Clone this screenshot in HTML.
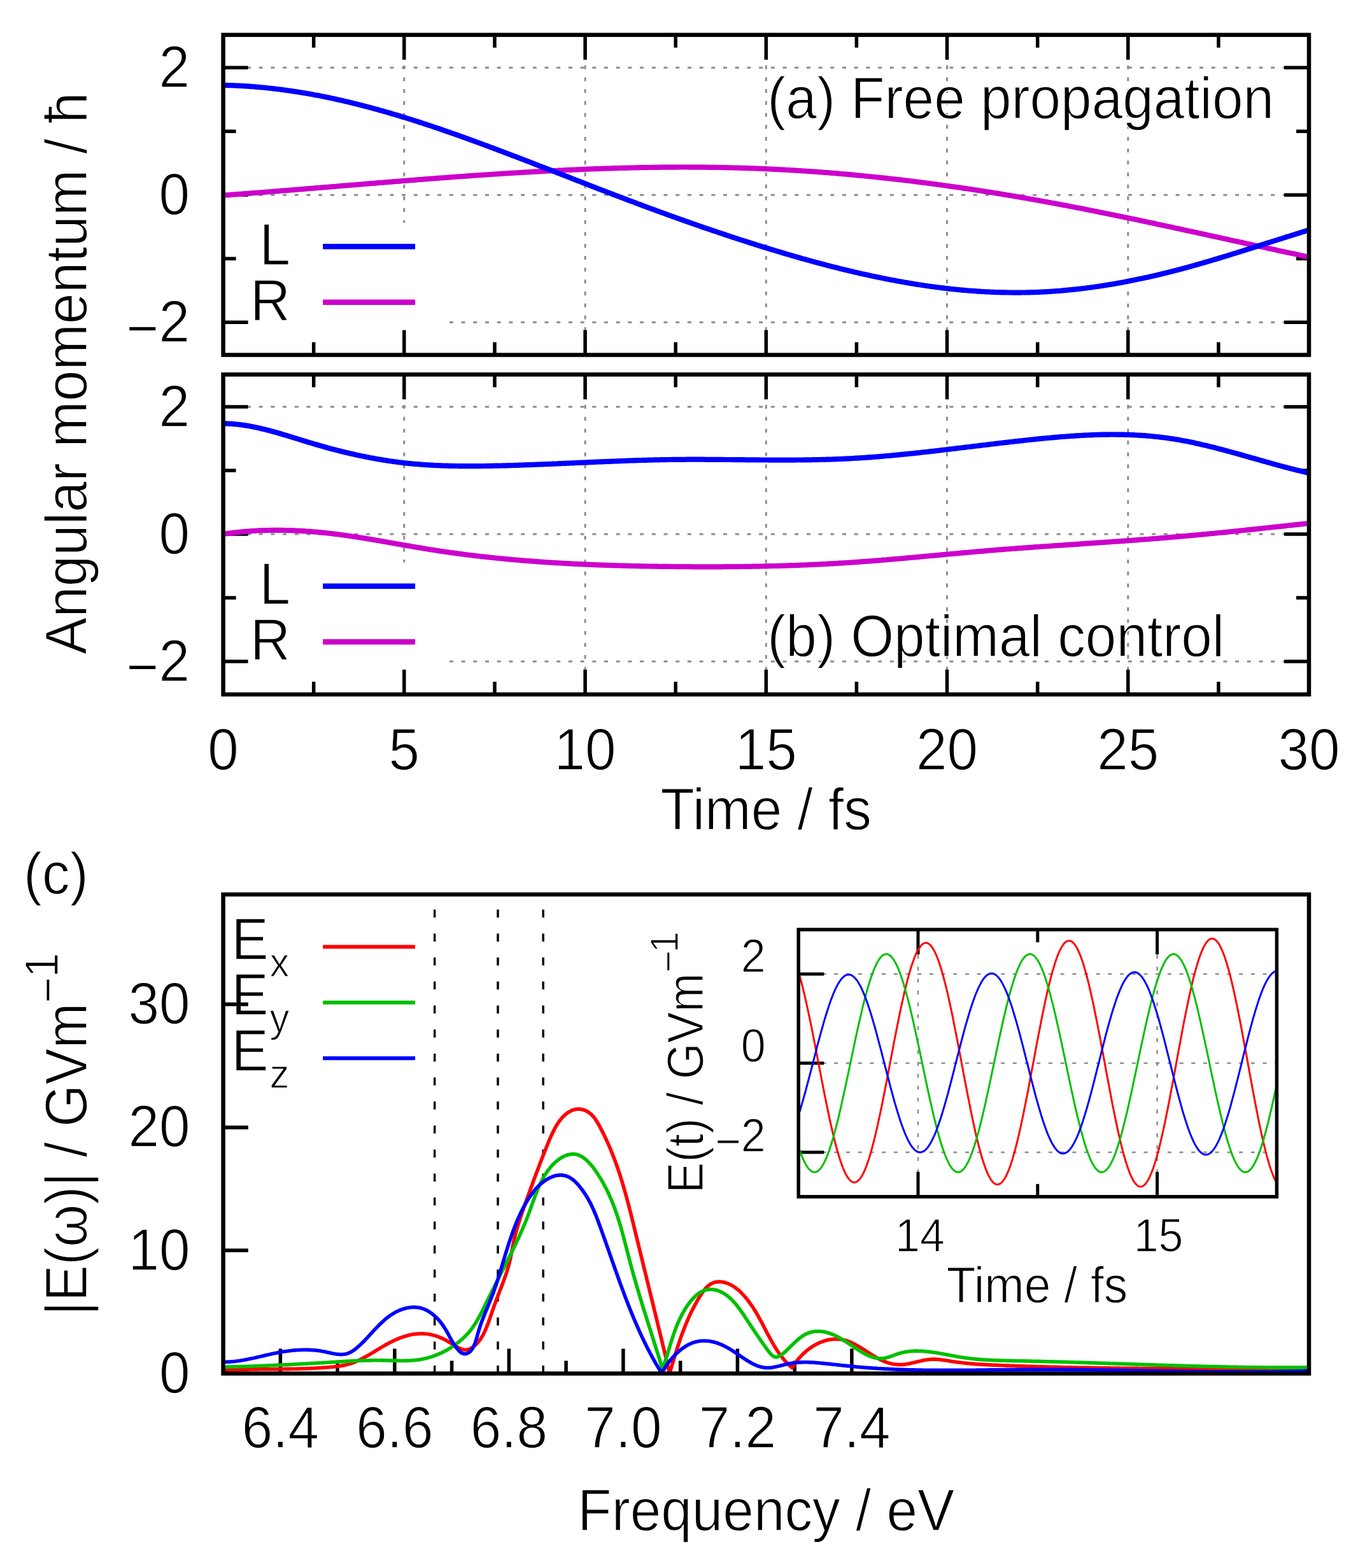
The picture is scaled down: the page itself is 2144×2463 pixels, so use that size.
<!DOCTYPE html>
<html><head><meta charset="utf-8"><title>Angular momentum figure</title>
<style>html,body{margin:0;padding:0;background:#fff;}svg{display:block;filter:blur(0.7px);}text{font-family:"Liberation Sans", Arial, Helvetica, sans-serif;fill:#000;stroke:#fff;stroke-width:1.3px;paint-order:fill;}</style></head><body>
<svg width="2144" height="2463" viewBox="0 0 2144 2463">
<rect x="0" y="0" width="2144" height="2463" fill="#fff"/>
<g stroke="#8c8c8c" stroke-width="3" stroke-dasharray="6 12.7" fill="none">
<line x1="634.8" y1="557.5" x2="634.8" y2="54.8"/>
<line x1="919.1" y1="557.5" x2="919.1" y2="54.8"/>
<line x1="1203.3" y1="557.5" x2="1203.3" y2="54.8"/>
<line x1="1487.5" y1="557.5" x2="1487.5" y2="54.8"/>
<line x1="1771.8" y1="557.5" x2="1771.8" y2="54.8"/>
<line x1="350.6" y1="106.3" x2="2056" y2="106.3"/>
<line x1="350.6" y1="306.3" x2="2056" y2="306.3"/>
<line x1="350.6" y1="506.3" x2="2056" y2="506.3"/>
</g>
<rect x="354.6" y="350" width="344.4" height="203.5" fill="#fff"/>
<g stroke="#000" stroke-width="5.5">
<line x1="492.7" y1="557.5" x2="492.7" y2="537.5"/>
<line x1="492.7" y1="54.8" x2="492.7" y2="74.8"/>
<line x1="634.8" y1="557.5" x2="634.8" y2="518.5"/>
<line x1="634.8" y1="54.8" x2="634.8" y2="93.8"/>
<line x1="777" y1="557.5" x2="777" y2="537.5"/>
<line x1="777" y1="54.8" x2="777" y2="74.8"/>
<line x1="919.1" y1="557.5" x2="919.1" y2="518.5"/>
<line x1="919.1" y1="54.8" x2="919.1" y2="93.8"/>
<line x1="1061.2" y1="557.5" x2="1061.2" y2="537.5"/>
<line x1="1061.2" y1="54.8" x2="1061.2" y2="74.8"/>
<line x1="1203.3" y1="557.5" x2="1203.3" y2="518.5"/>
<line x1="1203.3" y1="54.8" x2="1203.3" y2="93.8"/>
<line x1="1345.4" y1="557.5" x2="1345.4" y2="537.5"/>
<line x1="1345.4" y1="54.8" x2="1345.4" y2="74.8"/>
<line x1="1487.5" y1="557.5" x2="1487.5" y2="518.5"/>
<line x1="1487.5" y1="54.8" x2="1487.5" y2="93.8"/>
<line x1="1629.7" y1="557.5" x2="1629.7" y2="537.5"/>
<line x1="1629.7" y1="54.8" x2="1629.7" y2="74.8"/>
<line x1="1771.8" y1="557.5" x2="1771.8" y2="518.5"/>
<line x1="1771.8" y1="54.8" x2="1771.8" y2="93.8"/>
<line x1="1913.9" y1="557.5" x2="1913.9" y2="537.5"/>
<line x1="1913.9" y1="54.8" x2="1913.9" y2="74.8"/>
<line x1="350.6" y1="506.3" x2="389.6" y2="506.3"/>
<line x1="2056" y1="506.3" x2="2017" y2="506.3"/>
<line x1="350.6" y1="406.3" x2="370.6" y2="406.3"/>
<line x1="2056" y1="406.3" x2="2036" y2="406.3"/>
<line x1="350.6" y1="306.3" x2="389.6" y2="306.3"/>
<line x1="2056" y1="306.3" x2="2017" y2="306.3"/>
<line x1="350.6" y1="206.3" x2="370.6" y2="206.3"/>
<line x1="2056" y1="206.3" x2="2036" y2="206.3"/>
<line x1="350.6" y1="106.3" x2="389.6" y2="106.3"/>
<line x1="2056" y1="106.3" x2="2017" y2="106.3"/>
</g>
<g stroke="#8c8c8c" stroke-width="3" stroke-dasharray="6 12.7" fill="none">
<line x1="634.8" y1="1090.8" x2="634.8" y2="588.3"/>
<line x1="919.1" y1="1090.8" x2="919.1" y2="588.3"/>
<line x1="1203.3" y1="1090.8" x2="1203.3" y2="588.3"/>
<line x1="1487.5" y1="1090.8" x2="1487.5" y2="588.3"/>
<line x1="1771.8" y1="1090.8" x2="1771.8" y2="588.3"/>
<line x1="350.6" y1="639" x2="2056" y2="639"/>
<line x1="350.6" y1="839" x2="2056" y2="839"/>
<line x1="350.6" y1="1039" x2="2056" y2="1039"/>
</g>
<rect x="354.6" y="883.5" width="344.4" height="203.3" fill="#fff"/>
<g stroke="#000" stroke-width="5.5">
<line x1="492.7" y1="1090.8" x2="492.7" y2="1070.8"/>
<line x1="492.7" y1="588.3" x2="492.7" y2="608.3"/>
<line x1="634.8" y1="1090.8" x2="634.8" y2="1051.8"/>
<line x1="634.8" y1="588.3" x2="634.8" y2="627.3"/>
<line x1="777" y1="1090.8" x2="777" y2="1070.8"/>
<line x1="777" y1="588.3" x2="777" y2="608.3"/>
<line x1="919.1" y1="1090.8" x2="919.1" y2="1051.8"/>
<line x1="919.1" y1="588.3" x2="919.1" y2="627.3"/>
<line x1="1061.2" y1="1090.8" x2="1061.2" y2="1070.8"/>
<line x1="1061.2" y1="588.3" x2="1061.2" y2="608.3"/>
<line x1="1203.3" y1="1090.8" x2="1203.3" y2="1051.8"/>
<line x1="1203.3" y1="588.3" x2="1203.3" y2="627.3"/>
<line x1="1345.4" y1="1090.8" x2="1345.4" y2="1070.8"/>
<line x1="1345.4" y1="588.3" x2="1345.4" y2="608.3"/>
<line x1="1487.5" y1="1090.8" x2="1487.5" y2="1051.8"/>
<line x1="1487.5" y1="588.3" x2="1487.5" y2="627.3"/>
<line x1="1629.7" y1="1090.8" x2="1629.7" y2="1070.8"/>
<line x1="1629.7" y1="588.3" x2="1629.7" y2="608.3"/>
<line x1="1771.8" y1="1090.8" x2="1771.8" y2="1051.8"/>
<line x1="1771.8" y1="588.3" x2="1771.8" y2="627.3"/>
<line x1="1913.9" y1="1090.8" x2="1913.9" y2="1070.8"/>
<line x1="1913.9" y1="588.3" x2="1913.9" y2="608.3"/>
<line x1="350.6" y1="1039" x2="389.6" y2="1039"/>
<line x1="2056" y1="1039" x2="2017" y2="1039"/>
<line x1="350.6" y1="939" x2="370.6" y2="939"/>
<line x1="2056" y1="939" x2="2036" y2="939"/>
<line x1="350.6" y1="839" x2="389.6" y2="839"/>
<line x1="2056" y1="839" x2="2017" y2="839"/>
<line x1="350.6" y1="739" x2="370.6" y2="739"/>
<line x1="2056" y1="739" x2="2036" y2="739"/>
<line x1="350.6" y1="639" x2="389.6" y2="639"/>
<line x1="2056" y1="639" x2="2017" y2="639"/>
</g>
<path d="M350.6,306.8 353.1,306.6 355.6,306.4 358.1,306.3 360.6,306.1 363.0,305.9 365.5,305.7 368.0,305.5 370.5,305.3 373.0,305.1 375.5,304.9 378.0,304.8 380.5,304.6 383.0,304.4 385.5,304.2 387.9,304.0 390.4,303.8 392.9,303.6 395.4,303.4 397.9,303.2 400.4,303.0 402.9,302.8 405.4,302.7 407.9,302.5 410.4,302.3 412.9,302.1 415.3,301.9 417.8,301.7 420.3,301.5 422.8,301.3 425.3,301.1 427.8,300.9 430.3,300.7 432.8,300.5 435.3,300.3 437.8,300.1 440.3,299.9 442.8,299.7 445.3,299.5 447.7,299.3 450.2,299.1 452.7,298.9 455.2,298.7 457.7,298.5 460.2,298.3 462.7,298.1 465.2,297.9 467.7,297.7 470.2,297.5 472.7,297.3 475.2,297.1 477.7,296.9 480.2,296.7 482.7,296.4 485.2,296.2 487.6,296.0 490.1,295.8 492.6,295.6 495.1,295.4 497.6,295.2 500.1,295.0 502.6,294.8 505.1,294.6 507.6,294.4 510.1,294.2 512.6,294.0 515.1,293.8 517.6,293.6 520.1,293.4 522.6,293.2 525.1,293.0 527.6,292.8 530.1,292.5 532.6,292.3 535.1,292.1 537.6,291.9 540.0,291.7 542.5,291.5 545.0,291.3 547.5,291.1 550.0,290.9 552.5,290.7 555.0,290.5 557.5,290.3 560.0,290.1 562.5,289.9 565.0,289.7 567.5,289.5 570.0,289.3 572.5,289.0 575.0,288.8 577.5,288.6 580.0,288.4 582.5,288.2 585.0,288.0 587.5,287.8 590.0,287.6 592.5,287.4 595.0,287.2 597.5,287.0 600.0,286.8 602.5,286.6 605.0,286.4 607.5,286.2 610.0,286.0 612.5,285.8 615.0,285.6 617.5,285.4 620.0,285.2 622.5,285.0 625.0,284.8 627.5,284.6 630.0,284.4 632.5,284.2 635.0,284.0 637.5,283.8 640.0,283.6 642.5,283.4 645.0,283.2 647.5,283.0 650.0,282.8 652.5,282.6 655.0,282.4 657.5,282.2 660.0,282.0 662.5,281.8 665.0,281.6 667.4,281.4 669.9,281.2 672.4,281.1 674.9,280.9 677.4,280.7 679.9,280.5 682.4,280.3 684.9,280.1 687.4,279.9 689.9,279.7 692.4,279.5 694.9,279.3 697.4,279.2 699.9,279.0 702.4,278.8 704.9,278.6 707.4,278.4 709.9,278.2 712.4,278.0 714.9,277.9 717.4,277.7 719.9,277.5 722.4,277.3 724.9,277.1 727.4,277.0 730.0,276.8 732.5,276.6 735.0,276.4 737.5,276.2 740.0,276.1 742.5,275.9 745.0,275.7 747.5,275.5 750.0,275.4 752.5,275.2 755.0,275.0 757.5,274.8 760.0,274.7 762.5,274.5 765.0,274.3 767.5,274.2 770.0,274.0 772.5,273.8 775.0,273.7 777.5,273.5 780.0,273.3 782.5,273.2 785.0,273.0 787.5,272.9 790.0,272.7 792.5,272.5 795.0,272.4 797.5,272.2 800.0,272.1 802.5,271.9 805.0,271.8 807.5,271.6 810.0,271.5 812.5,271.3 815.0,271.2 817.5,271.0 820.0,270.9 822.5,270.7 825.0,270.6 827.5,270.4 830.0,270.3 832.5,270.1 835.0,270.0 837.5,269.8 840.0,269.7 842.5,269.6 845.0,269.4 847.5,269.3 850.0,269.1 852.5,269.0 855.0,268.9 857.5,268.7 860.0,268.6 862.5,268.5 865.0,268.4 867.5,268.2 870.0,268.1 872.5,268.0 875.0,267.9 877.5,267.7 880.0,267.6 882.5,267.5 885.0,267.4 887.5,267.2 890.0,267.1 892.5,267.0 895.0,266.9 897.5,266.8 900.0,266.7 902.5,266.6 905.0,266.5 907.5,266.3 910.0,266.2 912.5,266.1 915.0,266.0 917.5,265.9 920.0,265.8 922.5,265.7 925.0,265.6 927.5,265.5 930.0,265.4 932.5,265.3 935.0,265.2 937.5,265.2 940.0,265.1 942.5,265.0 945.0,264.9 947.5,264.8 950.0,264.7 952.5,264.6 955.0,264.6 957.5,264.5 960.0,264.4 962.5,264.3 965.0,264.2 967.5,264.2 970.0,264.1 972.5,264.0 975.0,264.0 977.5,263.9 980.0,263.8 982.5,263.8 985.0,263.7 987.5,263.6 990.0,263.6 992.5,263.5 995.0,263.5 997.5,263.4 1000.0,263.3 1002.5,263.3 1005.0,263.2 1007.5,263.2 1010.0,263.1 1012.5,263.1 1015.0,263.1 1017.5,263.0 1020.0,263.0 1022.5,262.9 1025.0,262.9 1027.5,262.9 1030.0,262.8 1032.5,262.8 1035.0,262.8 1037.5,262.7 1040.0,262.7 1042.5,262.7 1045.0,262.7 1047.5,262.6 1050.0,262.6 1052.5,262.6 1055.0,262.6 1057.5,262.6 1060.0,262.6 1062.5,262.6 1065.0,262.6 1067.5,262.5 1070.0,262.5 1072.5,262.5 1075.0,262.5 1077.5,262.5 1080.0,262.5 1082.5,262.6 1085.0,262.6 1087.5,262.6 1090.0,262.6 1092.5,262.6 1095.0,262.6 1097.5,262.6 1100.0,262.6 1102.5,262.7 1105.0,262.7 1107.5,262.7 1110.0,262.7 1112.5,262.8 1115.0,262.8 1117.5,262.8 1120.0,262.9 1122.5,262.9 1125.0,262.9 1127.5,263.0 1130.0,263.0 1132.5,263.1 1135.0,263.1 1137.5,263.2 1140.0,263.2 1142.5,263.3 1145.0,263.3 1147.5,263.4 1150.0,263.5 1152.5,263.5 1155.0,263.6 1157.5,263.6 1159.9,263.7 1162.4,263.8 1164.9,263.9 1167.4,263.9 1169.9,264.0 1172.4,264.1 1174.9,264.2 1177.4,264.3 1179.9,264.4 1182.4,264.4 1184.9,264.5 1187.4,264.6 1189.9,264.7 1192.4,264.8 1194.9,264.9 1197.4,265.0 1199.9,265.1 1202.4,265.2 1204.9,265.3 1207.4,265.5 1209.9,265.6 1212.4,265.7 1214.8,265.8 1217.3,265.9 1219.8,266.1 1222.3,266.2 1224.8,266.3 1227.3,266.4 1229.8,266.6 1232.3,266.7 1234.8,266.9 1237.3,267.0 1239.8,267.1 1242.3,267.3 1244.8,267.4 1247.3,267.6 1249.8,267.7 1252.3,267.9 1254.7,268.0 1257.2,268.2 1259.7,268.4 1262.2,268.5 1264.7,268.7 1267.2,268.8 1269.7,269.0 1272.2,269.2 1274.7,269.4 1277.2,269.5 1279.7,269.7 1282.2,269.9 1284.7,270.1 1287.1,270.3 1289.6,270.4 1292.1,270.6 1294.6,270.8 1297.1,271.0 1299.6,271.2 1302.1,271.4 1304.6,271.6 1307.1,271.8 1309.6,272.0 1312.1,272.2 1314.5,272.4 1317.0,272.6 1319.5,272.8 1322.0,273.1 1324.5,273.3 1327.0,273.5 1329.5,273.7 1332.0,273.9 1334.5,274.2 1337.0,274.4 1339.4,274.6 1341.9,274.9 1344.4,275.1 1346.9,275.3 1349.4,275.6 1351.9,275.8 1354.4,276.0 1356.9,276.3 1359.4,276.5 1361.8,276.8 1364.3,277.0 1366.8,277.3 1369.3,277.5 1371.8,277.8 1374.3,278.0 1376.8,278.3 1379.3,278.6 1381.7,278.8 1384.2,279.1 1386.7,279.4 1389.2,279.6 1391.7,279.9 1394.2,280.2 1396.7,280.5 1399.1,280.7 1401.6,281.0 1404.1,281.3 1406.6,281.6 1409.1,281.9 1411.6,282.1 1414.1,282.4 1416.5,282.7 1419.0,283.0 1421.5,283.3 1424.0,283.6 1426.5,283.9 1429.0,284.2 1431.5,284.5 1433.9,284.8 1436.4,285.1 1438.9,285.4 1441.4,285.7 1443.9,286.1 1446.4,286.4 1448.8,286.7 1451.3,287.0 1453.8,287.3 1456.3,287.7 1458.8,288.0 1461.3,288.3 1463.7,288.6 1466.2,289.0 1468.7,289.3 1471.2,289.6 1473.7,290.0 1476.1,290.3 1478.6,290.6 1481.1,291.0 1483.6,291.3 1486.1,291.7 1488.6,292.0 1491.0,292.4 1493.5,292.7 1496.0,293.1 1498.5,293.4 1501.0,293.8 1503.4,294.1 1505.9,294.5 1508.4,294.8 1510.9,295.2 1513.3,295.6 1515.8,295.9 1518.3,296.3 1520.8,296.7 1523.3,297.0 1525.7,297.4 1528.2,297.8 1530.7,298.2 1533.2,298.5 1535.7,298.9 1538.1,299.3 1540.6,299.7 1543.1,300.1 1545.6,300.5 1548.0,300.9 1550.5,301.2 1553.0,301.6 1555.5,302.0 1557.9,302.4 1560.4,302.8 1562.9,303.2 1565.4,303.6 1567.8,304.0 1570.3,304.4 1572.8,304.8 1575.3,305.2 1577.7,305.6 1580.2,306.1 1582.7,306.5 1585.2,306.9 1587.6,307.3 1590.1,307.7 1592.6,308.1 1595.1,308.6 1597.5,309.0 1600.0,309.4 1602.5,309.8 1605.0,310.3 1607.4,310.7 1609.9,311.1 1612.4,311.5 1614.8,312.0 1617.3,312.4 1619.8,312.9 1622.3,313.3 1624.7,313.7 1627.2,314.2 1629.7,314.6 1632.1,315.1 1634.6,315.5 1637.1,316.0 1639.5,316.4 1642.0,316.9 1644.5,317.3 1647.0,317.8 1649.4,318.2 1651.9,318.7 1654.4,319.1 1656.8,319.6 1659.3,320.1 1661.8,320.5 1664.2,321.0 1666.7,321.4 1669.2,321.9 1671.6,322.4 1674.1,322.8 1676.6,323.3 1679.0,323.8 1681.5,324.3 1684.0,324.7 1686.4,325.2 1688.9,325.7 1691.4,326.2 1693.8,326.6 1696.3,327.1 1698.8,327.6 1701.2,328.1 1703.7,328.6 1706.2,329.1 1708.6,329.5 1711.1,330.0 1713.5,330.5 1716.0,331.0 1718.5,331.5 1720.9,332.0 1723.4,332.5 1725.9,333.0 1728.3,333.5 1730.8,334.0 1733.2,334.5 1735.7,335.0 1738.2,335.5 1740.6,336.0 1743.1,336.5 1745.6,337.0 1748.0,337.5 1750.5,338.0 1752.9,338.5 1755.4,339.0 1757.9,339.5 1760.3,340.0 1762.8,340.5 1765.2,341.0 1767.7,341.5 1770.1,342.0 1772.6,342.5 1775.1,343.0 1777.5,343.6 1780.0,344.1 1782.4,344.6 1784.9,345.1 1787.3,345.6 1789.8,346.1 1792.3,346.7 1794.7,347.2 1797.2,347.7 1799.6,348.2 1802.1,348.7 1804.5,349.2 1807.0,349.8 1809.4,350.3 1811.9,350.8 1814.4,351.3 1816.8,351.9 1819.3,352.4 1821.7,352.9 1824.2,353.4 1826.6,354.0 1829.1,354.5 1831.5,355.0 1834.0,355.5 1836.4,356.1 1838.9,356.6 1841.3,357.1 1843.8,357.7 1846.2,358.2 1848.7,358.7 1851.1,359.2 1853.6,359.8 1856.0,360.3 1858.5,360.8 1860.9,361.4 1863.4,361.9 1865.8,362.4 1868.3,363.0 1870.7,363.5 1873.2,364.0 1875.6,364.6 1878.1,365.1 1880.5,365.6 1883.0,366.2 1885.4,366.7 1887.9,367.2 1890.3,367.8 1892.8,368.3 1895.2,368.8 1897.6,369.4 1900.1,369.9 1902.5,370.4 1905.0,371.0 1907.4,371.5 1909.9,372.0 1912.3,372.6 1914.8,373.1 1917.2,373.6 1919.6,374.2 1922.1,374.7 1924.5,375.3 1927.0,375.8 1929.4,376.3 1931.9,376.9 1934.3,377.4 1936.7,377.9 1939.2,378.5 1941.6,379.0 1944.1,379.5 1946.5,380.1 1948.9,380.6 1951.4,381.1 1953.8,381.7 1956.3,382.2 1958.7,382.7 1961.1,383.3 1963.6,383.8 1966.0,384.3 1968.4,384.9 1970.9,385.4 1973.3,385.9 1975.8,386.5 1978.2,387.0 1980.6,387.5 1983.1,388.1 1985.5,388.6 1987.9,389.1 1990.4,389.7 1992.8,390.2 1995.2,390.7 1997.7,391.3 2000.1,391.8 2002.5,392.3 2005.0,392.8 2007.4,393.4 2009.8,393.9 2012.3,394.4 2014.7,394.9 2017.1,395.5 2019.6,396.0 2022.0,396.5 2024.4,397.0 2026.9,397.6 2029.3,398.1 2031.7,398.6 2034.1,399.1 2036.6,399.7 2039.0,400.2 2041.4,400.7 2043.9,401.2 2046.3,401.7 2048.7,402.3 2051.1,402.8 2053.6,403.3 2056.0,403.8" fill="none" stroke="#cc00cc" stroke-width="8.2" stroke-linejoin="round"/>
<path d="M350.6,133.8 353.1,133.9 355.7,133.9 358.2,134.0 360.7,134.1 363.3,134.1 365.8,134.2 368.3,134.3 370.8,134.5 373.4,134.6 375.9,134.7 378.4,134.8 380.9,135.0 383.4,135.1 385.9,135.3 388.5,135.4 391.0,135.6 393.5,135.8 396.0,136.0 398.5,136.2 401.0,136.4 403.5,136.6 406.0,136.8 408.5,137.0 411.0,137.3 413.5,137.5 416.0,137.7 418.5,138.0 421.0,138.3 423.4,138.5 425.9,138.8 428.4,139.1 430.9,139.4 433.4,139.7 435.9,140.0 438.4,140.3 440.8,140.6 443.3,140.9 445.8,141.2 448.3,141.6 450.7,141.9 453.2,142.3 455.7,142.6 458.1,143.0 460.6,143.4 463.1,143.7 465.5,144.1 468.0,144.5 470.5,144.9 472.9,145.3 475.4,145.7 477.9,146.1 480.3,146.5 482.8,147.0 485.2,147.4 487.7,147.8 490.1,148.3 492.6,148.7 495.0,149.2 497.5,149.6 499.9,150.1 502.4,150.6 504.8,151.1 507.2,151.5 509.7,152.0 512.1,152.5 514.6,153.0 517.0,153.5 519.4,154.1 521.9,154.6 524.3,155.1 526.7,155.6 529.2,156.2 531.6,156.7 534.0,157.2 536.5,157.8 538.9,158.3 541.3,158.9 543.7,159.5 546.2,160.0 548.6,160.6 551.0,161.2 553.4,161.8 555.8,162.4 558.3,163.0 560.7,163.6 563.1,164.2 565.5,164.8 567.9,165.4 570.3,166.0 572.7,166.7 575.1,167.3 577.6,167.9 580.0,168.6 582.4,169.2 584.8,169.9 587.2,170.5 589.6,171.2 592.0,171.8 594.4,172.5 596.8,173.2 599.2,173.8 601.6,174.5 604.0,175.2 606.4,175.9 608.8,176.6 611.2,177.3 613.6,178.0 616.0,178.7 618.3,179.4 620.7,180.1 623.1,180.8 625.5,181.5 627.9,182.2 630.3,183.0 632.7,183.7 635.1,184.4 637.5,185.2 639.8,185.9 642.2,186.7 644.6,187.4 647.0,188.1 649.4,188.9 651.7,189.7 654.1,190.4 656.5,191.2 658.9,192.0 661.3,192.7 663.6,193.5 666.0,194.3 668.4,195.1 670.8,195.8 673.1,196.6 675.5,197.4 677.9,198.2 680.2,199.0 682.6,199.8 685.0,200.6 687.4,201.4 689.7,202.2 692.1,203.0 694.5,203.8 696.8,204.6 699.2,205.5 701.6,206.3 703.9,207.1 706.3,207.9 708.6,208.8 711.0,209.6 713.4,210.4 715.7,211.2 718.1,212.1 720.5,212.9 722.8,213.8 725.2,214.6 727.5,215.4 729.9,216.3 732.2,217.1 734.6,218.0 737.0,218.8 739.3,219.7 741.7,220.6 744.0,221.4 746.4,222.3 748.7,223.1 751.1,224.0 753.4,224.9 755.8,225.7 758.1,226.6 760.5,227.5 762.8,228.3 765.2,229.2 767.5,230.1 769.9,231.0 772.2,231.8 774.6,232.7 776.9,233.6 779.3,234.5 781.6,235.4 784.0,236.3 786.3,237.1 788.7,238.0 791.0,238.9 793.4,239.8 795.7,240.7 798.1,241.6 800.4,242.5 802.7,243.4 805.1,244.3 807.4,245.1 809.8,246.0 812.1,246.9 814.5,247.8 816.8,248.7 819.1,249.6 821.5,250.5 823.8,251.4 826.2,252.3 828.5,253.2 830.9,254.1 833.2,255.0 835.5,255.9 837.9,256.8 840.2,257.7 842.6,258.7 844.9,259.6 847.2,260.5 849.6,261.4 851.9,262.3 854.3,263.2 856.6,264.1 858.9,265.0 861.3,265.9 863.6,266.8 866.0,267.7 868.3,268.6 870.6,269.5 873.0,270.5 875.3,271.4 877.6,272.3 880.0,273.2 882.3,274.1 884.7,275.0 887.0,275.9 889.3,276.8 891.7,277.7 894.0,278.6 896.3,279.6 898.7,280.5 901.0,281.4 903.4,282.3 905.7,283.2 908.0,284.1 910.4,285.0 912.7,285.9 915.1,286.8 917.4,287.7 919.7,288.6 922.1,289.5 924.4,290.5 926.7,291.4 929.1,292.3 931.4,293.2 933.8,294.1 936.1,295.0 938.4,295.9 940.8,296.8 943.1,297.7 945.5,298.6 947.8,299.5 950.1,300.4 952.5,301.3 954.8,302.2 957.2,303.1 959.5,304.0 961.8,304.9 964.2,305.8 966.5,306.7 968.9,307.6 971.2,308.5 973.5,309.3 975.9,310.2 978.2,311.1 980.6,312.0 982.9,312.9 985.3,313.8 987.6,314.7 989.9,315.6 992.3,316.4 994.6,317.3 997.0,318.2 999.3,319.1 1001.7,320.0 1004.0,320.8 1006.4,321.7 1008.7,322.6 1011.0,323.5 1013.4,324.3 1015.7,325.2 1018.1,326.1 1020.4,326.9 1022.8,327.8 1025.1,328.7 1027.5,329.5 1029.8,330.4 1032.2,331.3 1034.5,332.1 1036.9,333.0 1039.2,333.8 1041.6,334.7 1043.9,335.5 1046.3,336.4 1048.7,337.3 1051.0,338.1 1053.4,339.0 1055.7,339.8 1058.1,340.7 1060.4,341.5 1062.8,342.3 1065.1,343.2 1067.5,344.0 1069.9,344.9 1072.2,345.7 1074.6,346.5 1076.9,347.4 1079.3,348.2 1081.7,349.0 1084.0,349.9 1086.4,350.7 1088.7,351.5 1091.1,352.3 1093.5,353.2 1095.8,354.0 1098.2,354.8 1100.6,355.6 1102.9,356.5 1105.3,357.3 1107.7,358.1 1110.0,358.9 1112.4,359.7 1114.8,360.5 1117.2,361.3 1119.5,362.1 1121.9,362.9 1124.3,363.7 1126.6,364.5 1129.0,365.3 1131.4,366.1 1133.8,366.9 1136.1,367.7 1138.5,368.5 1140.9,369.3 1143.3,370.1 1145.7,370.9 1148.0,371.7 1150.4,372.5 1152.8,373.2 1155.2,374.0 1157.6,374.8 1160.0,375.6 1162.3,376.4 1164.7,377.1 1167.1,377.9 1169.5,378.7 1171.9,379.4 1174.3,380.2 1176.7,381.0 1179.1,381.7 1181.5,382.5 1183.9,383.2 1186.3,384.0 1188.7,384.8 1191.0,385.5 1193.4,386.3 1195.8,387.0 1198.2,387.7 1200.6,388.5 1203.0,389.2 1205.4,390.0 1207.9,390.7 1210.3,391.5 1212.7,392.2 1215.1,392.9 1217.5,393.6 1219.9,394.4 1222.3,395.1 1224.7,395.8 1227.1,396.5 1229.5,397.3 1231.9,398.0 1234.3,398.7 1236.8,399.4 1239.2,400.1 1241.6,400.8 1244.0,401.5 1246.4,402.2 1248.8,402.9 1251.3,403.6 1253.7,404.3 1256.1,405.0 1258.5,405.7 1261.0,406.4 1263.4,407.0 1265.8,407.7 1268.2,408.4 1270.7,409.1 1273.1,409.7 1275.5,410.4 1277.9,411.1 1280.4,411.7 1282.8,412.4 1285.2,413.0 1287.7,413.7 1290.1,414.3 1292.5,415.0 1295.0,415.6 1297.4,416.3 1299.8,416.9 1302.3,417.5 1304.7,418.2 1307.1,418.8 1309.6,419.4 1312.0,420.0 1314.4,420.6 1316.9,421.2 1319.3,421.9 1321.8,422.5 1324.2,423.1 1326.6,423.7 1329.1,424.2 1331.5,424.8 1334.0,425.4 1336.4,426.0 1338.9,426.6 1341.3,427.2 1343.8,427.7 1346.2,428.3 1348.7,428.8 1351.1,429.4 1353.5,430.0 1356.0,430.5 1358.4,431.1 1360.9,431.6 1363.3,432.1 1365.8,432.7 1368.3,433.2 1370.7,433.7 1373.2,434.2 1375.6,434.8 1378.1,435.3 1380.5,435.8 1383.0,436.3 1385.4,436.8 1387.9,437.3 1390.3,437.8 1392.8,438.3 1395.3,438.7 1397.7,439.2 1400.2,439.7 1402.6,440.1 1405.1,440.6 1407.6,441.1 1410.0,441.5 1412.5,442.0 1414.9,442.4 1417.4,442.8 1419.9,443.3 1422.3,443.7 1424.8,444.1 1427.2,444.6 1429.7,445.0 1432.2,445.4 1434.6,445.8 1437.1,446.2 1439.6,446.6 1442.0,447.0 1444.5,447.3 1447.0,447.7 1449.4,448.1 1451.9,448.5 1454.4,448.8 1456.8,449.2 1459.3,449.5 1461.8,449.9 1464.2,450.2 1466.7,450.5 1469.2,450.9 1471.6,451.2 1474.1,451.5 1476.6,451.8 1479.1,452.1 1481.5,452.4 1484.0,452.7 1486.5,453.0 1488.9,453.3 1491.4,453.6 1493.9,453.9 1496.4,454.1 1498.8,454.4 1501.3,454.6 1503.8,454.9 1506.2,455.1 1508.7,455.4 1511.2,455.6 1513.7,455.8 1516.1,456.0 1518.6,456.2 1521.1,456.5 1523.6,456.7 1526.0,456.8 1528.5,457.0 1531.0,457.2 1533.4,457.4 1535.9,457.6 1538.4,457.7 1540.9,457.9 1543.3,458.0 1545.8,458.2 1548.3,458.3 1550.8,458.4 1553.2,458.5 1555.7,458.7 1558.2,458.8 1560.7,458.9 1563.2,459.0 1565.6,459.1 1568.1,459.1 1570.6,459.2 1573.1,459.3 1575.5,459.3 1578.0,459.4 1580.5,459.4 1583.0,459.5 1585.4,459.5 1587.9,459.5 1590.4,459.6 1592.9,459.6 1595.3,459.6 1597.8,459.6 1600.3,459.6 1602.8,459.6 1605.2,459.5 1607.7,459.5 1610.2,459.5 1612.7,459.4 1615.1,459.4 1617.6,459.3 1620.1,459.2 1622.6,459.2 1625.0,459.1 1627.5,459.0 1630.0,458.9 1632.5,458.8 1634.9,458.7 1637.4,458.6 1639.9,458.4 1642.4,458.3 1644.8,458.1 1647.3,458.0 1649.8,457.8 1652.3,457.7 1654.7,457.5 1657.2,457.3 1659.7,457.1 1662.2,457.0 1664.6,456.8 1667.1,456.6 1669.6,456.3 1672.0,456.1 1674.5,455.9 1677.0,455.7 1679.5,455.4 1681.9,455.2 1684.4,454.9 1686.9,454.7 1689.3,454.4 1691.8,454.1 1694.3,453.8 1696.8,453.6 1699.2,453.3 1701.7,453.0 1704.2,452.7 1706.6,452.4 1709.1,452.0 1711.6,451.7 1714.0,451.4 1716.5,451.0 1719.0,450.7 1721.4,450.3 1723.9,450.0 1726.4,449.6 1728.8,449.3 1731.3,448.9 1733.8,448.5 1736.2,448.1 1738.7,447.7 1741.2,447.3 1743.6,446.9 1746.1,446.5 1748.5,446.1 1751.0,445.7 1753.5,445.2 1755.9,444.8 1758.4,444.4 1760.9,443.9 1763.3,443.5 1765.8,443.0 1768.2,442.5 1770.7,442.1 1773.1,441.6 1775.6,441.1 1778.1,440.6 1780.5,440.1 1783.0,439.6 1785.4,439.1 1787.9,438.6 1790.3,438.1 1792.8,437.6 1795.3,437.1 1797.7,436.5 1800.2,436.0 1802.6,435.4 1805.1,434.9 1807.5,434.3 1810.0,433.8 1812.4,433.2 1814.9,432.7 1817.3,432.1 1819.8,431.5 1822.2,430.9 1824.7,430.3 1827.1,429.7 1829.6,429.1 1832.0,428.5 1834.4,427.9 1836.9,427.3 1839.3,426.7 1841.8,426.1 1844.2,425.4 1846.7,424.8 1849.1,424.2 1851.5,423.5 1854.0,422.9 1856.4,422.2 1858.9,421.6 1861.3,420.9 1863.7,420.3 1866.2,419.6 1868.6,418.9 1871.0,418.3 1873.5,417.6 1875.9,416.9 1878.3,416.2 1880.8,415.5 1883.2,414.8 1885.6,414.1 1888.1,413.4 1890.5,412.7 1892.9,412.0 1895.4,411.3 1897.8,410.6 1900.2,409.9 1902.6,409.2 1905.1,408.4 1907.5,407.7 1909.9,407.0 1912.3,406.3 1914.8,405.5 1917.2,404.8 1919.6,404.1 1922.0,403.3 1924.4,402.6 1926.9,401.9 1929.3,401.1 1931.7,400.4 1934.1,399.6 1936.5,398.9 1938.9,398.1 1941.3,397.4 1943.8,396.6 1946.2,395.9 1948.6,395.1 1951.0,394.4 1953.4,393.6 1955.8,392.8 1958.2,392.1 1960.6,391.3 1963.0,390.6 1965.4,389.8 1967.8,389.0 1970.2,388.3 1972.6,387.5 1975.0,386.8 1977.4,386.0 1979.8,385.2 1982.2,384.5 1984.6,383.7 1987.0,383.0 1989.4,382.2 1991.8,381.4 1994.2,380.7 1996.6,379.9 1999.0,379.1 2001.4,378.4 2003.7,377.6 2006.1,376.9 2008.5,376.1 2010.9,375.4 2013.3,374.6 2015.7,373.9 2018.1,373.1 2020.4,372.3 2022.8,371.6 2025.2,370.9 2027.6,370.1 2029.9,369.4 2032.3,368.6 2034.7,367.9 2037.1,367.1 2039.4,366.4 2041.8,365.7 2044.2,364.9 2046.5,364.2 2048.9,363.5 2051.3,362.7 2053.6,362.0 2056.0,361.3" fill="none" stroke="#0000ff" stroke-width="8.2" stroke-linejoin="round"/>
<path d="M350.6,839.0 353.1,838.6 355.6,838.3 358.0,837.9 360.5,837.6 363.0,837.3 365.5,836.9 368.0,836.6 370.4,836.4 372.9,836.1 375.4,835.8 377.9,835.6 380.4,835.3 382.9,835.1 385.3,834.9 387.8,834.7 390.3,834.5 392.8,834.3 395.3,834.1 397.7,834.0 400.2,833.8 402.7,833.7 405.2,833.5 407.7,833.4 410.2,833.3 412.6,833.2 415.1,833.1 417.6,833.1 420.1,833.0 422.6,833.0 425.0,832.9 427.5,832.9 430.0,832.9 432.5,832.8 435.0,832.8 437.5,832.8 439.9,832.9 442.4,832.9 444.9,832.9 447.4,833.0 449.9,833.0 452.4,833.1 454.8,833.2 457.3,833.2 459.8,833.3 462.3,833.4 464.8,833.5 467.3,833.7 469.7,833.8 472.2,833.9 474.7,834.1 477.2,834.2 479.7,834.4 482.2,834.5 484.7,834.7 487.1,834.9 489.6,835.1 492.1,835.3 494.6,835.5 497.1,835.7 499.6,835.9 502.0,836.2 504.5,836.4 507.0,836.7 509.5,836.9 512.0,837.2 514.5,837.5 517.0,837.7 519.4,838.0 521.9,838.3 524.4,838.6 526.9,838.9 529.4,839.2 531.9,839.5 534.4,839.9 536.8,840.2 539.3,840.5 541.8,840.9 544.3,841.2 546.8,841.6 549.3,841.9 551.8,842.3 554.3,842.7 556.7,843.0 559.2,843.4 561.7,843.8 564.2,844.2 566.7,844.6 569.2,845.0 571.7,845.4 574.2,845.8 576.6,846.2 579.1,846.6 581.6,847.0 584.1,847.4 586.6,847.9 589.1,848.3 591.6,848.7 594.1,849.1 596.5,849.6 599.0,850.0 601.5,850.4 604.0,850.9 606.5,851.3 609.0,851.7 611.5,852.2 614.0,852.6 616.4,853.0 618.9,853.5 621.4,853.9 623.9,854.4 626.4,854.8 628.9,855.2 631.4,855.7 633.9,856.1 636.4,856.5 638.8,857.0 641.3,857.4 643.8,857.8 646.3,858.3 648.8,858.7 651.3,859.1 653.8,859.6 656.3,860.0 658.8,860.4 661.3,860.8 663.7,861.2 666.2,861.6 668.7,862.0 671.2,862.5 673.7,862.9 676.2,863.3 678.7,863.6 681.2,864.0 683.7,864.4 686.2,864.8 688.6,865.2 691.1,865.6 693.6,865.9 696.1,866.3 698.6,866.7 701.1,867.0 703.6,867.4 706.1,867.7 708.6,868.1 711.1,868.4 713.6,868.8 716.0,869.1 718.5,869.4 721.0,869.8 723.5,870.1 726.0,870.4 728.5,870.7 731.0,871.1 733.5,871.4 736.0,871.7 738.5,872.0 741.0,872.3 743.4,872.6 745.9,872.9 748.4,873.2 750.9,873.5 753.4,873.8 755.9,874.1 758.4,874.3 760.9,874.6 763.4,874.9 765.9,875.2 768.4,875.4 770.9,875.7 773.4,876.0 775.8,876.2 778.3,876.5 780.8,876.7 783.3,877.0 785.8,877.2 788.3,877.5 790.8,877.7 793.3,877.9 795.8,878.2 798.3,878.4 800.8,878.6 803.3,878.9 805.8,879.1 808.3,879.3 810.7,879.5 813.2,879.7 815.7,880.0 818.2,880.2 820.7,880.4 823.2,880.6 825.7,880.8 828.2,881.0 830.7,881.2 833.2,881.4 835.7,881.6 838.2,881.7 840.7,881.9 843.2,882.1 845.7,882.3 848.1,882.5 850.6,882.6 853.1,882.8 855.6,883.0 858.1,883.2 860.6,883.3 863.1,883.5 865.6,883.6 868.1,883.8 870.6,883.9 873.1,884.1 875.6,884.3 878.1,884.4 880.6,884.5 883.1,884.7 885.6,884.8 888.1,885.0 890.6,885.1 893.0,885.2 895.5,885.4 898.0,885.5 900.5,885.6 903.0,885.8 905.5,885.9 908.0,886.0 910.5,886.1 913.0,886.2 915.5,886.3 918.0,886.5 920.5,886.6 923.0,886.7 925.5,886.8 928.0,886.9 930.5,887.0 933.0,887.1 935.5,887.2 938.0,887.3 940.5,887.4 942.9,887.5 945.4,887.6 947.9,887.7 950.4,887.7 952.9,887.8 955.4,887.9 957.9,888.0 960.4,888.1 962.9,888.2 965.4,888.2 967.9,888.3 970.4,888.4 972.9,888.5 975.4,888.5 977.9,888.6 980.4,888.7 982.9,888.7 985.4,888.8 987.9,888.8 990.4,888.9 992.9,889.0 995.4,889.0 997.9,889.1 1000.3,889.1 1002.8,889.2 1005.3,889.2 1007.8,889.3 1010.3,889.3 1012.8,889.4 1015.3,889.4 1017.8,889.5 1020.3,889.5 1022.8,889.6 1025.3,889.6 1027.8,889.6 1030.3,889.7 1032.8,889.7 1035.3,889.8 1037.8,889.8 1040.3,889.8 1042.8,889.9 1045.3,889.9 1047.8,889.9 1050.3,889.9 1052.8,890.0 1055.3,890.0 1057.8,890.0 1060.3,890.1 1062.8,890.1 1065.3,890.1 1067.8,890.1 1070.3,890.1 1072.8,890.2 1075.2,890.2 1077.7,890.2 1080.2,890.2 1082.7,890.2 1085.2,890.2 1087.7,890.3 1090.2,890.3 1092.7,890.3 1095.2,890.3 1097.7,890.3 1100.2,890.3 1102.7,890.3 1105.2,890.3 1107.7,890.3 1110.2,890.3 1112.7,890.3 1115.2,890.3 1117.7,890.3 1120.2,890.3 1122.7,890.3 1125.2,890.3 1127.7,890.3 1130.2,890.3 1132.7,890.3 1135.2,890.3 1137.7,890.2 1140.2,890.2 1142.7,890.2 1145.2,890.2 1147.7,890.2 1150.2,890.2 1152.7,890.1 1155.2,890.1 1157.7,890.1 1160.2,890.1 1162.7,890.0 1165.2,890.0 1167.7,890.0 1170.1,889.9 1172.6,889.9 1175.1,889.9 1177.6,889.8 1180.1,889.8 1182.6,889.7 1185.1,889.7 1187.6,889.7 1190.1,889.6 1192.6,889.6 1195.1,889.5 1197.6,889.5 1200.1,889.4 1202.6,889.3 1205.1,889.3 1207.6,889.2 1210.1,889.2 1212.6,889.1 1215.1,889.0 1217.6,889.0 1220.1,888.9 1222.6,888.8 1225.1,888.8 1227.6,888.7 1230.1,888.6 1232.6,888.6 1235.1,888.5 1237.6,888.4 1240.1,888.3 1242.6,888.2 1245.1,888.1 1247.6,888.1 1250.1,888.0 1252.6,887.9 1255.1,887.8 1257.6,887.7 1260.1,887.6 1262.6,887.5 1265.1,887.4 1267.6,887.3 1270.1,887.2 1272.6,887.1 1275.1,886.9 1277.6,886.8 1280.1,886.7 1282.6,886.6 1285.1,886.5 1287.6,886.4 1290.1,886.2 1292.6,886.1 1295.1,886.0 1297.5,885.9 1300.0,885.7 1302.5,885.6 1305.0,885.4 1307.5,885.3 1310.0,885.2 1312.5,885.0 1315.0,884.9 1317.5,884.7 1320.0,884.6 1322.5,884.4 1325.0,884.3 1327.5,884.1 1330.0,884.0 1332.5,883.8 1335.0,883.6 1337.5,883.5 1340.0,883.3 1342.5,883.1 1345.0,882.9 1347.5,882.8 1350.0,882.6 1352.5,882.4 1355.0,882.2 1357.5,882.0 1360.0,881.8 1362.5,881.7 1365.0,881.5 1367.5,881.3 1370.0,881.1 1372.5,880.9 1375.0,880.7 1377.5,880.5 1380.0,880.3 1382.5,880.1 1385.0,879.9 1387.5,879.7 1390.0,879.5 1392.5,879.3 1395.0,879.0 1397.5,878.8 1400.0,878.6 1402.5,878.4 1405.0,878.2 1407.5,878.0 1410.0,877.8 1412.5,877.5 1415.0,877.3 1417.5,877.1 1420.0,876.9 1422.5,876.7 1425.0,876.4 1427.5,876.2 1430.0,876.0 1432.4,875.8 1434.9,875.5 1437.4,875.3 1439.9,875.1 1442.4,874.9 1444.9,874.6 1447.4,874.4 1449.9,874.2 1452.4,873.9 1454.9,873.7 1457.4,873.5 1459.9,873.2 1462.4,873.0 1464.9,872.8 1467.4,872.6 1469.9,872.3 1472.4,872.1 1474.9,871.9 1477.4,871.6 1479.9,871.4 1482.4,871.2 1484.9,870.9 1487.4,870.7 1489.9,870.5 1492.4,870.2 1494.9,870.0 1497.4,869.8 1499.9,869.6 1502.4,869.3 1504.9,869.1 1507.4,868.9 1509.9,868.6 1512.4,868.4 1514.9,868.2 1517.4,868.0 1519.9,867.8 1522.4,867.5 1524.9,867.3 1527.4,867.1 1529.9,866.9 1532.4,866.7 1534.9,866.4 1537.4,866.2 1539.8,866.0 1542.3,865.8 1544.8,865.6 1547.3,865.4 1549.8,865.2 1552.3,864.9 1554.8,864.7 1557.3,864.5 1559.8,864.3 1562.3,864.1 1564.8,863.9 1567.3,863.7 1569.8,863.5 1572.3,863.3 1574.8,863.1 1577.3,862.9 1579.8,862.7 1582.3,862.5 1584.8,862.4 1587.3,862.2 1589.8,862.0 1592.3,861.8 1594.8,861.6 1597.3,861.4 1599.8,861.2 1602.3,861.0 1604.8,860.9 1607.3,860.7 1609.8,860.5 1612.3,860.3 1614.8,860.1 1617.3,859.9 1619.8,859.8 1622.2,859.6 1624.7,859.4 1627.2,859.2 1629.7,859.0 1632.2,858.9 1634.7,858.7 1637.2,858.5 1639.7,858.3 1642.2,858.2 1644.7,858.0 1647.2,857.8 1649.7,857.7 1652.2,857.5 1654.7,857.3 1657.2,857.1 1659.7,857.0 1662.2,856.8 1664.7,856.6 1667.2,856.5 1669.7,856.3 1672.2,856.1 1674.7,855.9 1677.2,855.8 1679.7,855.6 1682.2,855.4 1684.7,855.3 1687.1,855.1 1689.6,854.9 1692.1,854.8 1694.6,854.6 1697.1,854.4 1699.6,854.2 1702.1,854.1 1704.6,853.9 1707.1,853.7 1709.6,853.6 1712.1,853.4 1714.6,853.2 1717.1,853.1 1719.6,852.9 1722.1,852.7 1724.6,852.5 1727.1,852.4 1729.6,852.2 1732.1,852.0 1734.6,851.9 1737.1,851.7 1739.5,851.5 1742.0,851.3 1744.5,851.2 1747.0,851.0 1749.5,850.8 1752.0,850.6 1754.5,850.5 1757.0,850.3 1759.5,850.1 1762.0,849.9 1764.5,849.8 1767.0,849.6 1769.5,849.4 1772.0,849.2 1774.5,849.0 1777.0,848.8 1779.5,848.7 1782.0,848.5 1784.5,848.3 1786.9,848.1 1789.4,847.9 1791.9,847.7 1794.4,847.5 1796.9,847.4 1799.4,847.2 1801.9,847.0 1804.4,846.8 1806.9,846.6 1809.4,846.4 1811.9,846.2 1814.4,846.0 1816.9,845.8 1819.4,845.6 1821.9,845.4 1824.4,845.2 1826.8,845.0 1829.3,844.8 1831.8,844.6 1834.3,844.4 1836.8,844.2 1839.3,843.9 1841.8,843.7 1844.3,843.5 1846.8,843.3 1849.3,843.1 1851.8,842.9 1854.3,842.6 1856.8,842.4 1859.3,842.2 1861.7,842.0 1864.2,841.8 1866.7,841.5 1869.2,841.3 1871.7,841.1 1874.2,840.8 1876.7,840.6 1879.2,840.4 1881.7,840.2 1884.2,839.9 1886.7,839.7 1889.2,839.4 1891.7,839.2 1894.1,839.0 1896.6,838.7 1899.1,838.5 1901.6,838.2 1904.1,838.0 1906.6,837.8 1909.1,837.5 1911.6,837.3 1914.1,837.0 1916.6,836.8 1919.1,836.5 1921.6,836.3 1924.0,836.0 1926.5,835.8 1929.0,835.5 1931.5,835.3 1934.0,835.0 1936.5,834.8 1939.0,834.5 1941.5,834.2 1944.0,834.0 1946.5,833.7 1949.0,833.5 1951.4,833.2 1953.9,833.0 1956.4,832.7 1958.9,832.4 1961.4,832.2 1963.9,831.9 1966.4,831.7 1968.9,831.4 1971.4,831.1 1973.9,830.9 1976.4,830.6 1978.8,830.3 1981.3,830.1 1983.8,829.8 1986.3,829.5 1988.8,829.3 1991.3,829.0 1993.8,828.7 1996.3,828.5 1998.8,828.2 2001.2,827.9 2003.7,827.7 2006.2,827.4 2008.7,827.1 2011.2,826.9 2013.7,826.6 2016.2,826.3 2018.7,826.1 2021.2,825.8 2023.7,825.5 2026.1,825.2 2028.6,825.0 2031.1,824.7 2033.6,824.4 2036.1,824.2 2038.6,823.9 2041.1,823.6 2043.6,823.3 2046.0,823.1 2048.5,822.8 2051.0,822.5 2053.5,822.3 2056.0,822.0" fill="none" stroke="#cc00cc" stroke-width="8.2" stroke-linejoin="round"/>
<path d="M350.6,665.3 353.0,665.3 355.4,665.4 357.9,665.5 360.3,665.6 362.7,665.7 365.1,665.9 367.6,666.1 370.0,666.3 372.4,666.5 374.8,666.8 377.2,667.1 379.7,667.4 382.1,667.7 384.5,668.1 387.0,668.5 389.4,668.9 391.8,669.3 394.2,669.8 396.7,670.2 399.1,670.7 401.5,671.2 404.0,671.7 406.4,672.3 408.8,672.8 411.2,673.4 413.7,674.0 416.1,674.6 418.5,675.2 421.0,675.8 423.4,676.5 425.8,677.1 428.3,677.8 430.7,678.5 433.2,679.1 435.6,679.8 438.0,680.5 440.5,681.2 442.9,682.0 445.3,682.7 447.8,683.4 450.2,684.1 452.7,684.9 455.1,685.6 457.5,686.4 460.0,687.1 462.4,687.9 464.9,688.6 467.3,689.4 469.8,690.1 472.2,690.9 474.6,691.7 477.1,692.4 479.5,693.2 482.0,693.9 484.4,694.7 486.9,695.4 489.3,696.1 491.8,696.9 494.2,697.6 496.7,698.3 499.1,699.0 501.6,699.7 504.0,700.4 506.5,701.1 508.9,701.8 511.4,702.5 513.8,703.2 516.3,703.9 518.7,704.5 521.2,705.2 523.6,705.8 526.1,706.5 528.5,707.1 531.0,707.7 533.4,708.3 535.9,709.0 538.3,709.6 540.8,710.2 543.2,710.8 545.7,711.3 548.2,711.9 550.6,712.5 553.1,713.1 555.5,713.6 558.0,714.2 560.5,714.7 562.9,715.2 565.4,715.7 567.8,716.3 570.3,716.8 572.7,717.3 575.2,717.8 577.7,718.2 580.1,718.7 582.6,719.2 585.1,719.6 587.5,720.1 590.0,720.5 592.4,721.0 594.9,721.4 597.4,721.8 599.8,722.2 602.3,722.6 604.8,723.0 607.2,723.4 609.7,723.8 612.2,724.2 614.6,724.5 617.1,724.9 619.6,725.2 622.0,725.5 624.5,725.9 627.0,726.2 629.4,726.5 631.9,726.8 634.4,727.1 636.9,727.3 639.3,727.6 641.8,727.9 644.3,728.1 646.7,728.3 649.2,728.6 651.7,728.8 654.2,729.0 656.6,729.2 659.1,729.4 661.6,729.6 664.0,729.8 666.5,730.0 669.0,730.1 671.5,730.3 673.9,730.4 676.4,730.6 678.9,730.7 681.4,730.9 683.8,731.0 686.3,731.1 688.8,731.2 691.3,731.3 693.8,731.4 696.2,731.5 698.7,731.6 701.2,731.6 703.7,731.7 706.2,731.8 708.6,731.8 711.1,731.9 713.6,731.9 716.1,732.0 718.6,732.0 721.0,732.1 723.5,732.1 726.0,732.1 728.5,732.1 731.0,732.1 733.4,732.2 735.9,732.2 738.4,732.2 740.9,732.2 743.4,732.1 745.9,732.1 748.3,732.1 750.8,732.1 753.3,732.1 755.8,732.1 758.3,732.0 760.8,732.0 763.2,732.0 765.7,731.9 768.2,731.9 770.7,731.8 773.2,731.8 775.7,731.7 778.2,731.7 780.7,731.6 783.1,731.6 785.6,731.5 788.1,731.5 790.6,731.4 793.1,731.3 795.6,731.3 798.1,731.2 800.6,731.1 803.1,731.1 805.5,731.0 808.0,730.9 810.5,730.8 813.0,730.8 815.5,730.7 818.0,730.6 820.5,730.5 823.0,730.4 825.5,730.3 828.0,730.2 830.5,730.2 832.9,730.1 835.4,730.0 837.9,729.9 840.4,729.8 842.9,729.7 845.4,729.6 847.9,729.5 850.4,729.4 852.9,729.3 855.4,729.2 857.9,729.1 860.4,729.0 862.9,728.9 865.4,728.8 867.9,728.7 870.4,728.6 872.9,728.5 875.4,728.4 877.8,728.2 880.3,728.1 882.8,728.0 885.3,727.9 887.8,727.8 890.3,727.7 892.8,727.6 895.3,727.5 897.8,727.4 900.3,727.3 902.8,727.1 905.3,727.0 907.8,726.9 910.3,726.8 912.8,726.7 915.3,726.6 917.8,726.5 920.3,726.4 922.8,726.3 925.3,726.1 927.8,726.0 930.3,725.9 932.8,725.8 935.3,725.7 937.8,725.6 940.3,725.5 942.8,725.4 945.3,725.3 947.8,725.2 950.3,725.1 952.8,725.0 955.3,724.9 957.8,724.8 960.3,724.7 962.8,724.6 965.3,724.5 967.8,724.4 970.3,724.3 972.8,724.2 975.3,724.1 977.8,724.0 980.3,723.9 982.8,723.8 985.3,723.7 987.8,723.6 990.4,723.5 992.9,723.4 995.4,723.4 997.9,723.3 1000.4,723.2 1002.9,723.1 1005.4,723.0 1007.9,723.0 1010.4,722.9 1012.9,722.8 1015.4,722.8 1017.9,722.7 1020.4,722.6 1022.9,722.6 1025.4,722.5 1027.9,722.4 1030.4,722.4 1032.9,722.3 1035.4,722.3 1037.9,722.2 1040.4,722.2 1042.9,722.1 1045.5,722.1 1048.0,722.0 1050.5,722.0 1053.0,722.0 1055.5,721.9 1058.0,721.9 1060.5,721.9 1063.0,721.8 1065.5,721.8 1068.0,721.8 1070.5,721.8 1073.0,721.8 1075.5,721.8 1078.0,721.7 1080.5,721.7 1083.0,721.7 1085.6,721.7 1088.1,721.7 1090.6,721.7 1093.1,721.7 1095.6,721.7 1098.1,721.7 1100.6,721.7 1103.1,721.7 1105.6,721.7 1108.1,721.8 1110.6,721.8 1113.1,721.8 1115.6,721.8 1118.2,721.8 1120.7,721.8 1123.2,721.8 1125.7,721.9 1128.2,721.9 1130.7,721.9 1133.2,721.9 1135.7,721.9 1138.2,722.0 1140.7,722.0 1143.2,722.0 1145.7,722.0 1148.2,722.0 1150.8,722.1 1153.3,722.1 1155.8,722.1 1158.3,722.1 1160.8,722.2 1163.3,722.2 1165.8,722.2 1168.3,722.2 1170.8,722.3 1173.3,722.3 1175.8,722.3 1178.3,722.3 1180.9,722.4 1183.4,722.4 1185.9,722.4 1188.4,722.4 1190.9,722.4 1193.4,722.5 1195.9,722.5 1198.4,722.5 1200.9,722.5 1203.4,722.5 1205.9,722.5 1208.4,722.6 1211.0,722.6 1213.5,722.6 1216.0,722.6 1218.5,722.6 1221.0,722.6 1223.5,722.6 1226.0,722.6 1228.5,722.6 1231.0,722.6 1233.5,722.6 1236.0,722.6 1238.5,722.6 1241.1,722.6 1243.6,722.6 1246.1,722.6 1248.6,722.6 1251.1,722.5 1253.6,722.5 1256.1,722.5 1258.6,722.5 1261.1,722.5 1263.6,722.4 1266.1,722.4 1268.6,722.4 1271.2,722.3 1273.7,722.3 1276.2,722.2 1278.7,722.2 1281.2,722.2 1283.7,722.1 1286.2,722.0 1288.7,722.0 1291.2,721.9 1293.7,721.9 1296.2,721.8 1298.7,721.7 1301.2,721.6 1303.8,721.6 1306.3,721.5 1308.8,721.4 1311.3,721.3 1313.8,721.2 1316.3,721.1 1318.8,721.0 1321.3,720.9 1323.8,720.8 1326.3,720.7 1328.8,720.6 1331.3,720.4 1333.8,720.3 1336.3,720.2 1338.8,720.0 1341.4,719.9 1343.9,719.7 1346.4,719.6 1348.9,719.4 1351.4,719.3 1353.9,719.1 1356.4,719.0 1358.9,718.8 1361.4,718.6 1363.9,718.4 1366.4,718.3 1368.9,718.1 1371.4,717.9 1373.9,717.7 1376.4,717.5 1378.9,717.3 1381.4,717.1 1383.9,716.9 1386.4,716.7 1388.9,716.5 1391.5,716.2 1394.0,716.0 1396.5,715.8 1399.0,715.6 1401.5,715.3 1404.0,715.1 1406.5,714.9 1409.0,714.6 1411.5,714.4 1414.0,714.2 1416.5,713.9 1419.0,713.7 1421.5,713.4 1424.0,713.2 1426.5,712.9 1429.0,712.7 1431.5,712.4 1434.0,712.1 1436.5,711.9 1439.0,711.6 1441.5,711.3 1444.0,711.1 1446.5,710.8 1449.0,710.5 1451.5,710.2 1454.0,710.0 1456.5,709.7 1459.0,709.4 1461.5,709.1 1464.0,708.8 1466.5,708.6 1469.0,708.3 1471.5,708.0 1474.0,707.7 1476.5,707.4 1479.0,707.1 1481.5,706.8 1484.0,706.5 1486.5,706.2 1489.0,705.9 1491.5,705.6 1494.0,705.3 1496.5,705.0 1499.0,704.7 1501.5,704.4 1504.0,704.1 1506.5,703.8 1509.0,703.5 1511.5,703.2 1514.0,702.9 1516.5,702.6 1519.0,702.3 1521.5,702.0 1524.0,701.7 1526.5,701.4 1529.0,701.1 1531.4,700.8 1533.9,700.5 1536.4,700.2 1538.9,699.9 1541.4,699.6 1543.9,699.3 1546.4,699.0 1548.9,698.7 1551.4,698.4 1553.9,698.1 1556.4,697.8 1558.9,697.5 1561.4,697.2 1563.9,696.9 1566.4,696.6 1568.9,696.3 1571.3,696.0 1573.8,695.7 1576.3,695.4 1578.8,695.2 1581.3,694.9 1583.8,694.6 1586.3,694.3 1588.8,694.0 1591.3,693.7 1593.8,693.4 1596.3,693.2 1598.7,692.9 1601.2,692.6 1603.7,692.3 1606.2,692.1 1608.7,691.8 1611.2,691.5 1613.7,691.2 1616.2,691.0 1618.6,690.7 1621.1,690.5 1623.6,690.2 1626.1,689.9 1628.6,689.7 1631.1,689.4 1633.6,689.2 1636.1,688.9 1638.5,688.7 1641.0,688.5 1643.5,688.2 1646.0,688.0 1648.5,687.8 1651.0,687.5 1653.4,687.3 1655.9,687.1 1658.4,686.9 1660.9,686.7 1663.4,686.4 1665.9,686.2 1668.3,686.0 1670.8,685.8 1673.3,685.7 1675.8,685.5 1678.3,685.3 1680.7,685.1 1683.2,684.9 1685.7,684.8 1688.2,684.6 1690.7,684.4 1693.1,684.3 1695.6,684.2 1698.1,684.0 1700.6,683.9 1703.1,683.7 1705.5,683.6 1708.0,683.5 1710.5,683.4 1713.0,683.3 1715.4,683.2 1717.9,683.1 1720.4,683.0 1722.9,682.9 1725.3,682.9 1727.8,682.8 1730.3,682.7 1732.8,682.7 1735.2,682.6 1737.7,682.6 1740.2,682.6 1742.7,682.6 1745.1,682.5 1747.6,682.5 1750.1,682.5 1752.6,682.6 1755.0,682.6 1757.5,682.6 1760.0,682.6 1762.4,682.7 1764.9,682.7 1767.4,682.8 1769.8,682.9 1772.3,682.9 1774.8,683.0 1777.3,683.1 1779.7,683.2 1782.2,683.3 1784.7,683.5 1787.1,683.6 1789.6,683.8 1792.1,683.9 1794.5,684.1 1797.0,684.2 1799.5,684.4 1801.9,684.6 1804.4,684.8 1806.8,685.0 1809.3,685.3 1811.8,685.5 1814.2,685.8 1816.7,686.0 1819.2,686.3 1821.6,686.6 1824.1,686.9 1826.5,687.2 1829.0,687.5 1831.5,687.8 1833.9,688.1 1836.4,688.5 1838.8,688.9 1841.3,689.2 1843.8,689.6 1846.2,690.0 1848.7,690.4 1851.1,690.8 1853.6,691.3 1856.0,691.7 1858.5,692.2 1861.0,692.6 1863.4,693.1 1865.9,693.6 1868.3,694.1 1870.8,694.6 1873.2,695.1 1875.7,695.6 1878.1,696.2 1880.6,696.7 1883.0,697.2 1885.5,697.8 1887.9,698.4 1890.4,698.9 1892.8,699.5 1895.3,700.1 1897.7,700.7 1900.2,701.3 1902.6,701.9 1905.1,702.5 1907.5,703.1 1910.0,703.7 1912.4,704.4 1914.9,705.0 1917.3,705.7 1919.8,706.3 1922.2,706.9 1924.7,707.6 1927.1,708.3 1929.6,708.9 1932.0,709.6 1934.4,710.3 1936.9,710.9 1939.3,711.6 1941.8,712.3 1944.2,713.0 1946.6,713.6 1949.1,714.3 1951.5,715.0 1954.0,715.7 1956.4,716.4 1958.8,717.1 1961.3,717.8 1963.7,718.5 1966.2,719.2 1968.6,719.8 1971.0,720.5 1973.5,721.2 1975.9,721.9 1978.3,722.6 1980.8,723.3 1983.2,724.0 1985.6,724.7 1988.1,725.4 1990.5,726.1 1992.9,726.7 1995.4,727.4 1997.8,728.1 2000.2,728.8 2002.7,729.4 2005.1,730.1 2007.5,730.8 2009.9,731.4 2012.4,732.1 2014.8,732.8 2017.2,733.4 2019.7,734.0 2022.1,734.7 2024.5,735.3 2026.9,736.0 2029.4,736.6 2031.8,737.2 2034.2,737.8 2036.6,738.4 2039.1,739.0 2041.5,739.6 2043.9,740.2 2046.3,740.8 2048.7,741.3 2051.2,741.9 2053.6,742.5 2056.0,743.0" fill="none" stroke="#0000ff" stroke-width="8.2" stroke-linejoin="round"/>
<rect x="350.6" y="54.8" width="1705.4" height="502.7" fill="none" stroke="#000" stroke-width="6.5"/>
<rect x="350.6" y="588.3" width="1705.4" height="502.5" fill="none" stroke="#000" stroke-width="6.5"/>
<text transform="translate(456,415.8) scale(1,1.055)" font-size="87.3" text-anchor="end">L</text>
<line x1="507.2" y1="387.3" x2="652.1" y2="387.3" stroke="#0000ff" stroke-width="8.5"/>
<text transform="translate(456,503.6) scale(1,1.055)" font-size="87.3" text-anchor="end">R</text>
<line x1="507.2" y1="474.7" x2="652.1" y2="474.7" stroke="#cc00cc" stroke-width="8.5"/>
<text transform="translate(456,949.3) scale(1,1.055)" font-size="87.3" text-anchor="end">L</text>
<line x1="507.2" y1="920.8" x2="652.1" y2="920.8" stroke="#0000ff" stroke-width="8.5"/>
<text transform="translate(456,1037.1) scale(1,1.055)" font-size="87.3" text-anchor="end">R</text>
<line x1="507.2" y1="1008.2" x2="652.1" y2="1008.2" stroke="#cc00cc" stroke-width="8.5"/>
<text transform="translate(298,136.8) scale(1,1.055)" font-size="87.3" text-anchor="end">2</text>
<text transform="translate(298,336.8) scale(1,1.055)" font-size="87.3" text-anchor="end">0</text>
<text transform="translate(298,536.8) scale(1,1.055)" font-size="87.3" text-anchor="end"><tspan dy="9.3">−</tspan><tspan dy="-9.3">2</tspan></text>
<text transform="translate(298,669.5) scale(1,1.055)" font-size="87.3" text-anchor="end">2</text>
<text transform="translate(298,869.5) scale(1,1.055)" font-size="87.3" text-anchor="end">0</text>
<text transform="translate(298,1069.5) scale(1,1.055)" font-size="87.3" text-anchor="end"><tspan dy="9.3">−</tspan><tspan dy="-9.3">2</tspan></text>
<text transform="translate(350.6,1209) scale(1,1.055)" font-size="87.3" text-anchor="middle">0</text>
<text transform="translate(634.8,1209) scale(1,1.055)" font-size="87.3" text-anchor="middle">5</text>
<text transform="translate(919.1,1209) scale(1,1.055)" font-size="87.3" text-anchor="middle">10</text>
<text transform="translate(1203.3,1209) scale(1,1.055)" font-size="87.3" text-anchor="middle">15</text>
<text transform="translate(1487.5,1209) scale(1,1.055)" font-size="87.3" text-anchor="middle">20</text>
<text transform="translate(1771.8,1209) scale(1,1.055)" font-size="87.3" text-anchor="middle">25</text>
<text transform="translate(2056,1209) scale(1,1.055)" font-size="87.3" text-anchor="middle">30</text>
<text transform="translate(1203.3,1302.5) scale(1,1.055)" font-size="87.3" text-anchor="middle">Time / fs</text>
<text transform="translate(1205.3,186) scale(1,1.055)" font-size="87.3" text-anchor="start">(a) Free propagation</text>
<text transform="translate(1205.3,1031) scale(1,1.055)" font-size="87.3" text-anchor="start">(b) Optimal control</text>
<text transform="translate(135.8,586.5) rotate(-90) scale(1,1.055)" font-size="87.3" text-anchor="middle">Angular momentum / ħ</text>
<g stroke="#000" stroke-width="3.5" stroke-dasharray="12.5 25.2">
<line x1="682.7" y1="2157.5" x2="682.7" y2="1415"/>
<line x1="782" y1="2157.5" x2="782" y2="1415"/>
<line x1="853.2" y1="2157.5" x2="853.2" y2="1415"/>
</g>
<g stroke="#000" stroke-width="5.5">
<line x1="440.4" y1="2157.5" x2="440.4" y2="2118.5"/>
<line x1="530.1" y1="2157.5" x2="530.1" y2="2137.5"/>
<line x1="619.9" y1="2157.5" x2="619.9" y2="2118.5"/>
<line x1="709.6" y1="2157.5" x2="709.6" y2="2137.5"/>
<line x1="799.4" y1="2157.5" x2="799.4" y2="2118.5"/>
<line x1="889.1" y1="2157.5" x2="889.1" y2="2137.5"/>
<line x1="978.9" y1="2157.5" x2="978.9" y2="2118.5"/>
<line x1="1068.7" y1="2157.5" x2="1068.7" y2="2137.5"/>
<line x1="1158.4" y1="2157.5" x2="1158.4" y2="2118.5"/>
<line x1="1248.2" y1="2157.5" x2="1248.2" y2="2137.5"/>
<line x1="1337.9" y1="2157.5" x2="1337.9" y2="2118.5"/>
<line x1="350.6" y1="1964.2" x2="389.6" y2="1964.2"/>
<line x1="350.6" y1="1770.9" x2="389.6" y2="1770.9"/>
<line x1="350.6" y1="1577.6" x2="389.6" y2="1577.6"/>
</g>
<g fill="none" stroke-width="5.6" stroke-linejoin="round" stroke-linecap="round">
<path stroke="#ff0000" d="M350.6,2152.4 352.6,2152.3 354.6,2152.2 356.6,2152.1 358.6,2152.0 360.6,2151.9 362.6,2151.8 364.6,2151.8 366.7,2151.7 368.7,2151.6 370.7,2151.5 372.7,2151.5 374.7,2151.4 376.7,2151.4 378.7,2151.3 380.7,2151.3 382.7,2151.2 384.8,2151.2 386.8,2151.1 388.8,2151.1 390.8,2151.1 392.8,2151.0 394.8,2151.0 396.8,2151.0 398.8,2150.9 400.9,2150.9 402.9,2150.9 404.9,2150.9 406.9,2150.8 408.9,2150.8 410.9,2150.8 412.9,2150.8 414.9,2150.8 417.0,2150.7 419.0,2150.7 421.0,2150.7 423.0,2150.7 425.0,2150.7 427.0,2150.7 429.0,2150.7 431.0,2150.6 433.0,2150.6 435.0,2150.6 437.0,2150.6 439.0,2150.6 441.0,2150.5 443.0,2150.5 445.1,2150.5 447.1,2150.5 449.1,2150.4 451.1,2150.4 453.1,2150.4 455.0,2150.4 457.0,2150.3 459.0,2150.3 461.0,2150.3 463.0,2150.2 465.0,2150.2 467.0,2150.1 469.0,2150.1 471.0,2150.0 473.0,2150.0 475.0,2149.9 476.9,2149.8 478.9,2149.8 480.9,2149.7 482.9,2149.6 484.9,2149.6 486.8,2149.5 488.8,2149.4 490.8,2149.3 492.8,2149.2 494.7,2149.1 496.7,2149.0 498.7,2148.9 500.6,2148.8 502.6,2148.7 504.6,2148.5 506.5,2148.4 508.5,2148.3 510.4,2148.1 512.4,2148.0 514.3,2147.8 516.3,2147.7 518.2,2147.5 520.2,2147.3 522.1,2147.2 524.1,2147.0 526.0,2146.7 527.9,2146.5 529.9,2146.3 531.8,2146.0 533.7,2145.7 535.7,2145.4 537.6,2145.1 539.5,2144.7 541.4,2144.3 543.3,2143.9 545.3,2143.4 547.2,2142.9 549.1,2142.4 551.0,2141.8 552.9,2141.1 554.8,2140.5 556.7,2139.8 558.6,2139.0 560.5,2138.2 562.4,2137.3 564.2,2136.5 566.1,2135.5 568.0,2134.6 569.9,2133.6 571.7,2132.6 573.6,2131.6 575.5,2130.5 577.4,2129.5 579.2,2128.4 581.1,2127.3 582.9,2126.2 584.8,2125.1 586.6,2124.0 588.5,2122.8 590.3,2121.7 592.1,2120.6 594.0,2119.5 595.8,2118.4 597.6,2117.3 599.5,2116.2 601.3,2115.1 603.1,2114.1 604.9,2113.0 606.7,2112.0 608.5,2111.0 610.3,2110.0 612.1,2109.1 613.9,2108.2 615.7,2107.3 617.5,2106.4 619.3,2105.6 621.1,2104.7 622.9,2103.9 624.7,2103.2 626.4,2102.4 628.2,2101.7 630.0,2101.1 631.8,2100.4 633.6,2099.8 635.4,2099.2 637.2,2098.7 638.9,2098.2 640.7,2097.7 642.5,2097.2 644.3,2096.8 646.1,2096.5 647.9,2096.1 649.7,2095.8 651.5,2095.6 653.3,2095.4 655.1,2095.2 657.0,2095.0 658.8,2095.0 660.6,2094.9 662.4,2094.9 664.3,2094.9 666.1,2095.0 667.9,2095.2 669.8,2095.3 671.6,2095.5 673.5,2095.8 675.4,2096.1 677.2,2096.5 679.1,2096.9 681.0,2097.4 682.9,2097.9 684.8,2098.5 686.6,2099.1 688.5,2099.8 690.4,2100.5 692.3,2101.3 694.2,2102.1 696.2,2103.0 698.1,2104.0 700.0,2105.0 701.9,2106.1 703.8,2107.2 705.7,2108.4 707.6,2109.6 709.6,2110.8 711.5,2112.0 713.4,2113.2 715.2,2114.3 717.1,2115.4 719.0,2116.4 720.8,2117.4 722.7,2118.2 724.5,2118.9 726.2,2119.5 728.0,2120.0 729.7,2120.2 731.4,2120.3 733.1,2120.2 734.7,2119.9 736.3,2119.4 737.9,2118.8 739.4,2118.1 740.9,2117.2 742.3,2116.3 743.7,2115.3 745.0,2114.2 746.3,2113.1 747.6,2111.9 748.8,2110.7 750.0,2109.4 751.1,2108.1 752.2,2106.7 753.3,2105.3 754.4,2103.9 755.4,2102.4 756.3,2100.8 757.3,2099.3 758.2,2097.6 759.1,2096.0 760.0,2094.3 760.8,2092.6 761.6,2090.8 762.4,2089.1 763.2,2087.3 764.0,2085.4 764.8,2083.6 765.5,2081.7 766.2,2079.8 767.0,2077.8 767.7,2075.9 768.4,2073.9 769.1,2072.0 769.8,2070.0 770.4,2068.0 771.1,2066.0 771.8,2064.0 772.5,2061.9 773.2,2059.9 773.9,2057.9 774.6,2055.8 775.3,2053.8 776.0,2051.8 776.7,2049.7 777.5,2047.7 778.2,2045.7 779.0,2043.6 779.7,2041.6 780.5,2039.6 781.2,2037.6 782.0,2035.6 782.8,2033.6 783.6,2031.6 784.4,2029.5 785.1,2027.6 785.9,2025.6 786.7,2023.6 787.4,2021.6 788.2,2019.6 789.0,2017.6 789.7,2015.6 790.5,2013.6 791.2,2011.7 791.9,2009.7 792.6,2007.7 793.3,2005.8 794.0,2003.8 794.7,2001.8 795.3,1999.9 796.0,1997.9 796.6,1996.0 797.2,1994.0 797.8,1992.0 798.3,1990.1 798.9,1988.2 799.4,1986.2 799.9,1984.3 800.4,1982.3 800.8,1980.4 801.3,1978.5 801.7,1976.5 802.1,1974.6 802.5,1972.7 802.9,1970.7 803.3,1968.8 803.7,1966.9 804.0,1965.0 804.4,1963.1 804.8,1961.2 805.1,1959.2 805.5,1957.3 805.9,1955.4 806.3,1953.5 806.7,1951.6 807.1,1949.7 807.5,1947.8 807.9,1945.9 808.3,1944.0 808.8,1942.1 809.2,1940.2 809.7,1938.3 810.2,1936.4 810.7,1934.5 811.3,1932.6 811.8,1930.7 812.3,1928.8 812.9,1927.0 813.5,1925.1 814.1,1923.2 814.6,1921.3 815.2,1919.4 815.8,1917.5 816.5,1915.7 817.1,1913.8 817.7,1911.9 818.3,1910.0 819.0,1908.2 819.6,1906.3 820.3,1904.4 820.9,1902.5 821.6,1900.7 822.2,1898.8 822.9,1896.9 823.5,1895.0 824.2,1893.2 824.9,1891.3 825.5,1889.4 826.2,1887.6 826.8,1885.7 827.5,1883.8 828.2,1882.0 828.8,1880.1 829.5,1878.2 830.2,1876.4 830.8,1874.5 831.5,1872.6 832.2,1870.8 832.8,1868.9 833.5,1867.0 834.2,1865.2 834.9,1863.3 835.6,1861.5 836.2,1859.6 836.9,1857.7 837.6,1855.9 838.3,1854.0 839.0,1852.1 839.7,1850.3 840.4,1848.4 841.1,1846.5 841.8,1844.7 842.5,1842.8 843.2,1841.0 843.9,1839.1 844.6,1837.2 845.3,1835.4 846.0,1833.5 846.7,1831.6 847.4,1829.8 848.1,1827.9 848.8,1826.0 849.6,1824.2 850.3,1822.3 851.0,1820.4 851.7,1818.5 852.5,1816.7 853.2,1814.8 853.9,1812.9 854.7,1811.1 855.4,1809.2 856.2,1807.3 856.9,1805.4 857.7,1803.5 858.4,1801.7 859.2,1799.8 859.9,1797.9 860.7,1796.0 861.5,1794.1 862.2,1792.3 863.0,1790.4 863.8,1788.5 864.6,1786.6 865.5,1784.8 866.3,1782.9 867.2,1781.1 868.1,1779.2 869.0,1777.4 869.9,1775.5 870.8,1773.7 871.8,1771.9 872.8,1770.1 873.9,1768.3 875.0,1766.5 876.1,1764.7 877.2,1763.0 878.4,1761.3 879.7,1759.7 880.9,1758.1 882.3,1756.5 883.6,1755.0 885.0,1753.5 886.5,1752.1 888.0,1750.7 889.6,1749.4 891.2,1748.2 892.9,1747.1 894.6,1746.1 896.3,1745.1 898.1,1744.3 899.9,1743.6 901.8,1743.0 903.6,1742.5 905.5,1742.2 907.4,1742.1 909.4,1742.1 911.3,1742.2 913.2,1742.5 915.1,1743.0 917.0,1743.5 918.9,1744.2 920.7,1745.1 922.5,1746.0 924.2,1747.0 925.9,1748.2 927.4,1749.4 928.9,1750.7 930.4,1752.1 931.7,1753.6 933.0,1755.1 934.2,1756.7 935.4,1758.4 936.5,1760.1 937.6,1761.8 938.7,1763.6 939.7,1765.4 940.7,1767.2 941.7,1769.0 942.7,1770.8 943.6,1772.6 944.6,1774.4 945.5,1776.2 946.4,1778.0 947.3,1779.9 948.2,1781.7 949.1,1783.5 950.0,1785.4 950.9,1787.2 951.8,1789.0 952.6,1790.9 953.4,1792.7 954.3,1794.5 955.1,1796.4 955.9,1798.2 956.7,1800.1 957.5,1801.9 958.3,1803.8 959.1,1805.6 959.8,1807.5 960.6,1809.3 961.3,1811.2 962.1,1813.0 962.8,1814.9 963.5,1816.8 964.3,1818.6 965.0,1820.5 965.7,1822.4 966.4,1824.2 967.0,1826.1 967.7,1828.0 968.4,1829.8 969.1,1831.7 969.7,1833.6 970.4,1835.5 971.0,1837.4 971.6,1839.2 972.3,1841.1 972.9,1843.0 973.5,1844.9 974.1,1846.8 974.7,1848.7 975.3,1850.6 975.9,1852.5 976.5,1854.4 977.1,1856.3 977.6,1858.2 978.2,1860.1 978.8,1862.0 979.3,1863.9 979.9,1865.8 980.5,1867.7 981.0,1869.6 981.5,1871.5 982.1,1873.4 982.6,1875.3 983.1,1877.2 983.7,1879.1 984.2,1881.0 984.7,1882.9 985.2,1884.9 985.7,1886.8 986.2,1888.7 986.8,1890.6 987.3,1892.5 987.8,1894.5 988.3,1896.4 988.7,1898.3 989.2,1900.2 989.7,1902.2 990.2,1904.1 990.7,1906.0 991.2,1907.9 991.7,1909.9 992.1,1911.8 992.6,1913.7 993.1,1915.7 993.6,1917.6 994.1,1919.5 994.5,1921.5 995.0,1923.4 995.5,1925.3 995.9,1927.3 996.4,1929.2 996.9,1931.2 997.4,1933.1 997.8,1935.0 998.3,1937.0 998.8,1938.9 999.2,1940.9 999.7,1942.8 1000.2,1944.7 1000.7,1946.7 1001.1,1948.6 1001.6,1950.6 1002.1,1952.5 1002.6,1954.5 1003.0,1956.4 1003.5,1958.4 1004.0,1960.3 1004.5,1962.3 1004.9,1964.2 1005.4,1966.2 1005.9,1968.1 1006.4,1970.1 1006.8,1972.0 1007.3,1974.0 1007.8,1975.9 1008.3,1977.9 1008.8,1979.8 1009.2,1981.8 1009.7,1983.7 1010.2,1985.7 1010.7,1987.7 1011.1,1989.6 1011.6,1991.6 1012.1,1993.5 1012.6,1995.5 1013.1,1997.4 1013.5,1999.4 1014.0,2001.3 1014.5,2003.3 1015.0,2005.3 1015.5,2007.2 1015.9,2009.2 1016.4,2011.1 1016.9,2013.1 1017.4,2015.0 1017.9,2017.0 1018.3,2019.0 1018.8,2020.9 1019.3,2022.9 1019.8,2024.8 1020.2,2026.8 1020.7,2028.7 1021.2,2030.7 1021.7,2032.7 1022.2,2034.6 1022.6,2036.6 1023.1,2038.5 1023.6,2040.5 1024.1,2042.4 1024.6,2044.4 1025.0,2046.4 1025.5,2048.3 1026.0,2050.3 1026.5,2052.2 1026.9,2054.2 1027.4,2056.1 1027.9,2058.1 1028.4,2060.0 1028.9,2062.0 1029.3,2064.0 1029.8,2065.9 1030.3,2067.9 1030.8,2069.8 1031.2,2071.8 1031.7,2073.7 1032.2,2075.7 1032.7,2077.6 1033.1,2079.6 1033.6,2081.5 1034.1,2083.5 1034.5,2085.4 1035.0,2087.4 1035.5,2089.3 1036.0,2091.3 1036.4,2093.2 1036.9,2095.2 1037.4,2097.1 1037.8,2099.0 1038.3,2101.0 1038.8,2102.9 1039.3,2104.9 1039.7,2106.8 1040.2,2108.8 1040.7,2110.7 1041.1,2112.6 1041.6,2114.6 1042.1,2116.5 1042.5,2118.4 1043.0,2120.4 1043.5,2122.3 1043.9,2124.3 1044.4,2126.2 1044.8,2128.1 1045.3,2130.1 1045.8,2132.0 1046.2,2133.9 1046.7,2135.8 1047.1,2137.8 1047.6,2139.7 1048.1,2141.6 1048.5,2143.6 1049.0,2145.5 1049.4,2147.4 1049.9,2149.3 1050.3,2151.2 1050.8,2153.2 1051.2,2155.1 1051.7,2157.0 1052.3,2155.1 1052.9,2153.1 1053.5,2151.2 1054.1,2149.3 1054.7,2147.3 1055.2,2145.4 1055.8,2143.5 1056.4,2141.5 1057.0,2139.6 1057.6,2137.7 1058.2,2135.7 1058.8,2133.8 1059.4,2131.9 1059.9,2130.0 1060.5,2128.0 1061.1,2126.1 1061.7,2124.2 1062.3,2122.3 1062.9,2120.4 1063.5,2118.5 1064.2,2116.5 1064.8,2114.6 1065.4,2112.7 1066.0,2110.8 1066.6,2108.9 1067.3,2107.1 1067.9,2105.2 1068.6,2103.3 1069.2,2101.4 1069.9,2099.5 1070.5,2097.7 1071.2,2095.8 1071.9,2093.9 1072.6,2092.1 1073.3,2090.2 1074.0,2088.4 1074.7,2086.6 1075.4,2084.7 1076.1,2082.9 1076.8,2081.1 1077.6,2079.3 1078.3,2077.5 1079.1,2075.6 1079.9,2073.9 1080.7,2072.1 1081.4,2070.3 1082.3,2068.5 1083.1,2066.7 1083.9,2064.9 1084.8,2063.1 1085.6,2061.3 1086.5,2059.5 1087.4,2057.7 1088.3,2055.9 1089.3,2054.1 1090.3,2052.3 1091.2,2050.4 1092.2,2048.6 1093.3,2046.7 1094.3,2044.8 1095.4,2042.9 1096.5,2041.0 1097.7,2039.1 1098.8,2037.1 1100.0,2035.2 1101.2,2033.3 1102.5,2031.4 1103.8,2029.5 1105.1,2027.7 1106.4,2026.0 1107.8,2024.3 1109.3,2022.8 1110.7,2021.3 1112.2,2019.9 1113.7,2018.7 1115.3,2017.6 1116.9,2016.6 1118.6,2015.8 1120.2,2015.1 1121.9,2014.5 1123.7,2014.0 1125.4,2013.7 1127.2,2013.5 1129.0,2013.4 1130.8,2013.4 1132.6,2013.5 1134.4,2013.7 1136.2,2014.0 1138.0,2014.5 1139.8,2015.0 1141.6,2015.5 1143.4,2016.2 1145.2,2017.0 1146.9,2017.8 1148.7,2018.7 1150.4,2019.7 1152.1,2020.7 1153.7,2021.8 1155.3,2023.0 1156.9,2024.2 1158.5,2025.4 1160.0,2026.7 1161.6,2028.1 1163.0,2029.5 1164.5,2030.9 1165.9,2032.4 1167.3,2033.8 1168.7,2035.4 1170.1,2036.9 1171.4,2038.4 1172.7,2040.0 1174.0,2041.6 1175.2,2043.2 1176.4,2044.8 1177.6,2046.5 1178.8,2048.1 1180.0,2049.8 1181.1,2051.4 1182.3,2053.1 1183.4,2054.8 1184.5,2056.6 1185.5,2058.3 1186.6,2060.0 1187.6,2061.8 1188.7,2063.5 1189.7,2065.3 1190.7,2067.0 1191.7,2068.8 1192.7,2070.6 1193.7,2072.4 1194.6,2074.2 1195.6,2076.0 1196.6,2077.8 1197.5,2079.6 1198.5,2081.4 1199.4,2083.2 1200.3,2085.0 1201.3,2086.8 1202.2,2088.6 1203.1,2090.4 1204.1,2092.2 1205.0,2094.0 1206.0,2095.8 1206.9,2097.6 1207.9,2099.4 1208.8,2101.1 1209.8,2102.9 1210.7,2104.7 1211.7,2106.4 1212.7,2108.2 1213.7,2109.9 1214.7,2111.6 1215.7,2113.4 1216.7,2115.1 1217.8,2116.8 1218.8,2118.5 1219.9,2120.1 1221.0,2121.8 1222.1,2123.4 1223.2,2125.1 1224.4,2126.7 1225.5,2128.3 1226.7,2129.8 1227.9,2131.4 1229.1,2133.0 1230.3,2134.5 1231.6,2136.0 1232.9,2137.5 1234.2,2138.9 1235.6,2140.4 1236.9,2141.8 1238.3,2143.2 1239.7,2144.5 1241.2,2145.9 1242.7,2147.2 1244.2,2148.5 1245.3,2146.7 1246.4,2145.0 1247.6,2143.2 1248.7,2141.5 1250.0,2139.9 1251.2,2138.2 1252.5,2136.6 1253.8,2135.0 1255.1,2133.4 1256.5,2131.8 1257.9,2130.3 1259.3,2128.8 1260.8,2127.4 1262.2,2126.0 1263.7,2124.6 1265.3,2123.2 1266.8,2121.9 1268.4,2120.6 1270.0,2119.4 1271.6,2118.2 1273.2,2117.0 1274.8,2115.9 1276.5,2114.8 1278.2,2113.8 1279.9,2112.8 1281.6,2111.9 1283.3,2111.0 1285.1,2110.1 1286.8,2109.3 1288.6,2108.5 1290.4,2107.8 1292.2,2107.1 1294.0,2106.5 1295.8,2106.0 1297.6,2105.5 1299.5,2105.0 1301.3,2104.6 1303.1,2104.3 1305.0,2104.0 1306.8,2103.7 1308.7,2103.6 1310.6,2103.5 1312.4,2103.4 1314.3,2103.4 1316.1,2103.5 1318.0,2103.6 1319.9,2103.8 1321.7,2104.1 1323.6,2104.4 1325.4,2104.8 1327.3,2105.3 1329.1,2105.8 1331.0,2106.4 1332.8,2107.1 1334.6,2107.8 1336.5,2108.6 1338.3,2109.4 1340.1,2110.3 1341.9,2111.2 1343.8,2112.2 1345.6,2113.2 1347.4,2114.2 1349.2,2115.3 1351.0,2116.4 1352.8,2117.5 1354.7,2118.6 1356.5,2119.8 1358.3,2120.9 1360.1,2122.1 1362.0,2123.3 1363.8,2124.5 1365.6,2125.6 1367.5,2126.8 1369.3,2127.9 1371.2,2129.1 1373.0,2130.2 1374.9,2131.3 1376.7,2132.4 1378.6,2133.4 1380.5,2134.4 1382.4,2135.4 1384.2,2136.3 1386.1,2137.2 1388.0,2138.1 1389.9,2138.8 1391.8,2139.6 1393.7,2140.3 1395.6,2140.9 1397.5,2141.4 1399.4,2141.9 1401.4,2142.4 1403.3,2142.7 1405.2,2143.1 1407.1,2143.3 1409.0,2143.5 1411.0,2143.6 1412.9,2143.6 1414.8,2143.6 1416.7,2143.5 1418.7,2143.4 1420.6,2143.2 1422.5,2142.9 1424.4,2142.6 1426.4,2142.3 1428.3,2141.9 1430.2,2141.5 1432.2,2141.1 1434.1,2140.6 1436.0,2140.2 1438.0,2139.7 1439.9,2139.2 1441.9,2138.8 1443.8,2138.3 1445.7,2137.9 1447.7,2137.4 1449.6,2137.0 1451.6,2136.6 1453.5,2136.3 1455.5,2136.0 1457.4,2135.7 1459.4,2135.5 1461.3,2135.3 1463.3,2135.2 1465.2,2135.1 1467.2,2135.1 1469.1,2135.1 1471.1,2135.2 1473.0,2135.4 1475.0,2135.5 1476.9,2135.7 1478.9,2136.0 1480.9,2136.2 1482.8,2136.5 1484.8,2136.8 1486.7,2137.1 1488.7,2137.4 1490.7,2137.8 1492.6,2138.1 1494.6,2138.4 1496.6,2138.7 1498.5,2139.0 1500.5,2139.3 1502.5,2139.6 1504.4,2139.8 1506.4,2140.1 1508.4,2140.3 1510.3,2140.5 1512.3,2140.8 1514.3,2141.0 1516.2,2141.2 1518.2,2141.4 1520.2,2141.6 1522.2,2141.8 1524.1,2142.0 1526.1,2142.1 1528.1,2142.3 1530.1,2142.4 1532.1,2142.6 1534.0,2142.7 1536.0,2142.9 1538.0,2143.0 1540.0,2143.1 1542.0,2143.3 1543.9,2143.4 1545.9,2143.5 1547.9,2143.6 1549.9,2143.7 1551.9,2143.8 1553.9,2143.9 1555.9,2144.0 1557.8,2144.1 1559.8,2144.2 1561.8,2144.3 1563.8,2144.4 1565.8,2144.4 1567.8,2144.5 1569.8,2144.6 1571.8,2144.7 1573.8,2144.8 1575.8,2144.8 1577.8,2144.9 1579.8,2145.0 1581.7,2145.1 1583.7,2145.1 1585.7,2145.2 1587.7,2145.3 1589.7,2145.4 1591.7,2145.4 1593.7,2145.5 1595.7,2145.6 1597.7,2145.6 1599.7,2145.7 1601.7,2145.8 1603.7,2145.8 1605.7,2145.9 1607.7,2146.0 1609.7,2146.0 1611.7,2146.1 1613.7,2146.2 1615.7,2146.2 1617.7,2146.3 1619.7,2146.4 1621.8,2146.4 1623.8,2146.5 1625.8,2146.5 1627.8,2146.6 1629.8,2146.6 1631.8,2146.7 1633.8,2146.8 1635.8,2146.8 1637.8,2146.9 1639.8,2146.9 1641.8,2147.0 1643.8,2147.0 1645.8,2147.1 1647.9,2147.1 1649.9,2147.2 1651.9,2147.2 1653.9,2147.3 1655.9,2147.3 1657.9,2147.4 1659.9,2147.4 1661.9,2147.5 1663.9,2147.5 1666.0,2147.6 1668.0,2147.6 1670.0,2147.7 1672.0,2147.7 1674.0,2147.7 1676.0,2147.8 1678.0,2147.8 1680.1,2147.9 1682.1,2147.9 1684.1,2148.0 1686.1,2148.0 1688.1,2148.0 1690.1,2148.1 1692.2,2148.1 1694.2,2148.2 1696.2,2148.2 1698.2,2148.2 1700.2,2148.3 1702.2,2148.3 1704.3,2148.3 1706.3,2148.4 1708.3,2148.4 1710.3,2148.4 1712.3,2148.5 1714.4,2148.5 1716.4,2148.5 1718.4,2148.6 1720.4,2148.6 1722.4,2148.6 1724.5,2148.7 1726.5,2148.7 1728.5,2148.7 1730.5,2148.8 1732.5,2148.8 1734.6,2148.8 1736.6,2148.8 1738.6,2148.9 1740.6,2148.9 1742.6,2148.9 1744.7,2149.0 1746.7,2149.0 1748.7,2149.0 1750.7,2149.0 1752.7,2149.1 1754.8,2149.1 1756.8,2149.1 1758.8,2149.1 1760.8,2149.2 1762.8,2149.2 1764.9,2149.2 1766.9,2149.2 1768.9,2149.3 1770.9,2149.3 1773.0,2149.3 1775.0,2149.3 1777.0,2149.3 1779.0,2149.4 1781.0,2149.4 1783.1,2149.4 1785.1,2149.4 1787.1,2149.4 1789.1,2149.5 1791.1,2149.5 1793.2,2149.5 1795.2,2149.5 1797.2,2149.5 1799.2,2149.6 1801.2,2149.6 1803.3,2149.6 1805.3,2149.6 1807.3,2149.6 1809.3,2149.7 1811.3,2149.7 1813.4,2149.7 1815.4,2149.7 1817.4,2149.7 1819.4,2149.7 1821.4,2149.8 1823.5,2149.8 1825.5,2149.8 1827.5,2149.8 1829.5,2149.8 1831.5,2149.8 1833.5,2149.9 1835.6,2149.9 1837.6,2149.9 1839.6,2149.9 1841.6,2149.9 1843.6,2149.9 1845.7,2150.0 1847.7,2150.0 1849.7,2150.0 1851.7,2150.0 1853.7,2150.0 1855.7,2150.0 1857.7,2150.0 1859.8,2150.1 1861.8,2150.1 1863.8,2150.1 1865.8,2150.1 1867.8,2150.1 1869.8,2150.1 1871.8,2150.1 1873.9,2150.2 1875.9,2150.2 1877.9,2150.2 1879.9,2150.2 1881.9,2150.2 1883.9,2150.2 1885.9,2150.2 1887.9,2150.3 1890.0,2150.3 1892.0,2150.3 1894.0,2150.3 1896.0,2150.3 1898.0,2150.3 1900.0,2150.4 1902.0,2150.4 1904.0,2150.4 1906.0,2150.4 1908.0,2150.4 1910.0,2150.4 1912.0,2150.4 1914.0,2150.5 1916.1,2150.5 1918.1,2150.5 1920.1,2150.5 1922.1,2150.5 1924.1,2150.5 1926.1,2150.6 1928.1,2150.6 1930.1,2150.6 1932.1,2150.6 1934.1,2150.6 1936.1,2150.6 1938.1,2150.7 1940.1,2150.7 1942.1,2150.7 1944.1,2150.7 1946.1,2150.7 1948.1,2150.7 1950.1,2150.8 1952.1,2150.8 1954.1,2150.8 1956.1,2150.8 1958.0,2150.8 1960.0,2150.8 1962.0,2150.9 1964.0,2150.9 1966.0,2150.9 1968.0,2150.9 1970.0,2150.9 1972.0,2151.0 1974.0,2151.0 1976.0,2151.0 1978.0,2151.0 1979.9,2151.1 1981.9,2151.1 1983.9,2151.1 1985.9,2151.1 1987.9,2151.1 1989.9,2151.2 1991.9,2151.2 1993.8,2151.2 1995.8,2151.2 1997.8,2151.3 1999.8,2151.3 2001.8,2151.3 2003.8,2151.3 2005.7,2151.4 2007.7,2151.4 2009.7,2151.4 2011.7,2151.4 2013.6,2151.5 2015.6,2151.5 2017.6,2151.5 2019.6,2151.6 2021.5,2151.6 2023.5,2151.6 2025.5,2151.6 2027.5,2151.7 2029.4,2151.7 2031.4,2151.7 2033.4,2151.8 2035.3,2151.8 2037.3,2151.8 2039.3,2151.9 2041.2,2151.9 2043.2,2151.9 2045.2,2152.0 2047.1,2152.0 2049.1,2152.0 2051.0,2152.1 2053.0,2152.1"/>
<path stroke="#00c000" d="M350.6,2147.3 352.6,2147.3 354.5,2147.2 356.5,2147.2 358.5,2147.1 360.5,2147.1 362.4,2147.0 364.4,2147.0 366.4,2146.9 368.4,2146.9 370.3,2146.8 372.3,2146.8 374.3,2146.7 376.3,2146.7 378.3,2146.6 380.3,2146.5 382.2,2146.5 384.2,2146.4 386.2,2146.3 388.2,2146.3 390.2,2146.2 392.2,2146.1 394.2,2146.1 396.2,2146.0 398.2,2145.9 400.2,2145.9 402.2,2145.8 404.2,2145.7 406.2,2145.6 408.2,2145.6 410.2,2145.5 412.2,2145.4 414.2,2145.3 416.2,2145.2 418.2,2145.1 420.2,2145.1 422.2,2145.0 424.2,2144.9 426.2,2144.8 428.2,2144.7 430.2,2144.6 432.2,2144.5 434.2,2144.4 436.3,2144.3 438.3,2144.2 440.3,2144.2 442.3,2144.1 444.3,2144.0 446.3,2143.9 448.3,2143.8 450.3,2143.7 452.4,2143.6 454.4,2143.5 456.4,2143.4 458.4,2143.3 460.4,2143.2 462.4,2143.0 464.4,2142.9 466.5,2142.8 468.5,2142.7 470.5,2142.6 472.5,2142.5 474.5,2142.4 476.6,2142.3 478.6,2142.2 480.6,2142.1 482.6,2142.0 484.6,2141.8 486.6,2141.7 488.7,2141.6 490.7,2141.5 492.7,2141.4 494.7,2141.3 496.7,2141.2 498.8,2141.0 500.8,2140.9 502.8,2140.8 504.8,2140.7 506.8,2140.6 508.8,2140.4 510.9,2140.3 512.9,2140.2 514.9,2140.1 516.9,2140.0 518.9,2139.8 521.0,2139.7 523.0,2139.6 525.0,2139.5 527.0,2139.4 529.0,2139.2 531.0,2139.1 533.0,2139.0 535.1,2138.9 537.1,2138.8 539.1,2138.6 541.1,2138.5 543.1,2138.4 545.1,2138.3 547.1,2138.2 549.1,2138.1 551.2,2138.0 553.2,2137.9 555.2,2137.8 557.2,2137.7 559.2,2137.6 561.2,2137.5 563.2,2137.4 565.2,2137.4 567.2,2137.3 569.2,2137.2 571.2,2137.1 573.2,2137.1 575.2,2137.0 577.2,2137.0 579.2,2136.9 581.2,2136.9 583.2,2136.9 585.2,2136.8 587.2,2136.8 589.2,2136.8 591.2,2136.8 593.2,2136.8 595.2,2136.8 597.2,2136.8 599.2,2136.8 601.2,2136.9 603.2,2136.9 605.2,2136.9 607.1,2137.0 609.1,2137.0 611.1,2137.1 613.1,2137.1 615.1,2137.2 617.1,2137.2 619.0,2137.3 621.0,2137.3 623.0,2137.4 625.0,2137.4 627.0,2137.4 628.9,2137.5 630.9,2137.5 632.9,2137.5 634.8,2137.4 636.8,2137.4 638.8,2137.4 640.7,2137.3 642.7,2137.2 644.7,2137.1 646.6,2137.0 648.6,2136.8 650.5,2136.7 652.5,2136.5 654.4,2136.3 656.4,2136.0 658.4,2135.7 660.3,2135.4 662.2,2135.1 664.2,2134.7 666.1,2134.3 668.1,2133.9 670.0,2133.4 672.0,2132.9 673.9,2132.4 675.8,2131.8 677.7,2131.2 679.7,2130.6 681.6,2129.9 683.5,2129.2 685.4,2128.5 687.3,2127.7 689.1,2126.9 691.0,2126.1 692.9,2125.3 694.7,2124.4 696.5,2123.5 698.4,2122.5 700.2,2121.6 702.0,2120.6 703.7,2119.6 705.5,2118.5 707.2,2117.5 709.0,2116.4 710.7,2115.2 712.4,2114.1 714.0,2112.9 715.7,2111.7 717.3,2110.5 718.9,2109.3 720.5,2108.0 722.1,2106.7 723.6,2105.4 725.2,2104.1 726.7,2102.8 728.1,2101.4 729.6,2100.0 731.0,2098.6 732.4,2097.2 733.7,2095.7 735.1,2094.3 736.4,2092.8 737.6,2091.3 738.9,2089.8 740.1,2088.2 741.3,2086.7 742.4,2085.1 743.5,2083.5 744.6,2081.9 745.7,2080.3 746.7,2078.7 747.7,2077.0 748.7,2075.4 749.7,2073.7 750.7,2072.0 751.6,2070.4 752.6,2068.7 753.5,2066.9 754.4,2065.2 755.3,2063.5 756.2,2061.7 757.1,2060.0 758.0,2058.2 758.9,2056.4 759.7,2054.7 760.6,2052.9 761.5,2051.1 762.4,2049.3 763.3,2047.5 764.2,2045.7 765.1,2043.8 766.0,2042.0 766.9,2040.2 767.8,2038.3 768.7,2036.5 769.7,2034.6 770.6,2032.8 771.5,2030.9 772.4,2029.1 773.4,2027.2 774.3,2025.4 775.2,2023.5 776.2,2021.7 777.1,2019.8 778.0,2017.9 779.0,2016.1 779.9,2014.2 780.8,2012.4 781.8,2010.5 782.7,2008.7 783.6,2006.8 784.6,2005.0 785.5,2003.1 786.4,2001.3 787.4,1999.4 788.3,1997.6 789.2,1995.8 790.1,1994.0 791.1,1992.2 792.0,1990.3 792.9,1988.5 793.8,1986.8 794.7,1985.0 795.6,1983.2 796.5,1981.4 797.4,1979.6 798.3,1977.9 799.1,1976.1 800.0,1974.4 800.9,1972.6 801.8,1970.9 802.6,1969.1 803.5,1967.4 804.3,1965.7 805.2,1963.9 806.0,1962.2 806.9,1960.5 807.7,1958.7 808.6,1957.0 809.4,1955.3 810.2,1953.5 811.0,1951.8 811.8,1950.1 812.7,1948.3 813.5,1946.6 814.3,1944.9 815.1,1943.1 815.9,1941.4 816.7,1939.6 817.5,1937.9 818.2,1936.1 819.0,1934.3 819.8,1932.6 820.6,1930.8 821.3,1929.0 822.1,1927.2 822.9,1925.4 823.6,1923.6 824.4,1921.8 825.1,1920.0 825.9,1918.2 826.6,1916.4 827.3,1914.5 828.1,1912.7 828.8,1910.8 829.5,1908.9 830.2,1907.1 830.9,1905.2 831.6,1903.3 832.3,1901.3 833.0,1899.4 833.7,1897.5 834.4,1895.5 835.1,1893.6 835.8,1891.6 836.5,1889.6 837.2,1887.6 838.0,1885.7 838.7,1883.7 839.4,1881.7 840.1,1879.7 840.9,1877.8 841.6,1875.8 842.4,1873.8 843.2,1871.8 843.9,1869.9 844.7,1867.9 845.6,1866.0 846.4,1864.1 847.3,1862.1 848.1,1860.2 849.0,1858.3 849.9,1856.4 850.9,1854.6 851.9,1852.7 852.8,1850.9 853.9,1849.1 854.9,1847.3 856.0,1845.5 857.1,1843.8 858.2,1842.0 859.4,1840.3 860.6,1838.7 861.8,1837.0 863.1,1835.4 864.4,1833.8 865.7,1832.3 867.1,1830.7 868.5,1829.2 870.0,1827.8 871.4,1826.4 873.0,1825.0 874.5,1823.7 876.1,1822.5 877.7,1821.3 879.3,1820.1 881.0,1819.0 882.7,1818.0 884.3,1817.1 886.0,1816.3 887.8,1815.5 889.5,1814.8 891.2,1814.3 893.0,1813.8 894.7,1813.4 896.4,1813.1 898.2,1812.9 899.9,1812.8 901.6,1812.9 903.3,1813.0 904.9,1813.3 906.6,1813.7 908.2,1814.2 909.8,1814.8 911.4,1815.6 912.9,1816.4 914.5,1817.3 916.0,1818.3 917.5,1819.3 919.0,1820.5 920.5,1821.7 921.9,1823.0 923.3,1824.4 924.7,1825.8 926.1,1827.3 927.5,1828.8 928.8,1830.4 930.1,1832.0 931.4,1833.6 932.7,1835.3 934.0,1837.0 935.2,1838.8 936.4,1840.5 937.6,1842.3 938.8,1844.1 939.9,1845.9 941.1,1847.7 942.2,1849.4 943.3,1851.2 944.4,1853.0 945.4,1854.8 946.5,1856.6 947.5,1858.5 948.5,1860.3 949.4,1862.1 950.4,1863.9 951.4,1865.7 952.3,1867.5 953.2,1869.4 954.1,1871.2 955.0,1873.0 955.8,1874.8 956.7,1876.7 957.5,1878.5 958.3,1880.4 959.1,1882.2 959.9,1884.1 960.7,1885.9 961.5,1887.8 962.2,1889.6 963.0,1891.5 963.7,1893.3 964.4,1895.2 965.1,1897.1 965.8,1898.9 966.5,1900.8 967.1,1902.7 967.8,1904.5 968.4,1906.4 969.1,1908.3 969.7,1910.2 970.3,1912.1 970.9,1913.9 971.5,1915.8 972.1,1917.7 972.7,1919.6 973.3,1921.5 973.8,1923.4 974.4,1925.3 975.0,1927.2 975.5,1929.1 976.1,1931.0 976.6,1932.9 977.1,1934.8 977.7,1936.7 978.2,1938.6 978.7,1940.5 979.2,1942.4 979.7,1944.3 980.2,1946.3 980.7,1948.2 981.2,1950.1 981.7,1952.0 982.2,1953.9 982.7,1955.8 983.2,1957.8 983.7,1959.7 984.2,1961.6 984.7,1963.5 985.2,1965.5 985.7,1967.4 986.2,1969.3 986.7,1971.3 987.2,1973.2 987.7,1975.1 988.2,1977.1 988.7,1979.0 989.2,1980.9 989.7,1982.9 990.2,1984.8 990.7,1986.7 991.3,1988.7 991.8,1990.6 992.3,1992.5 992.8,1994.5 993.4,1996.4 993.9,1998.4 994.4,2000.3 995.0,2002.2 995.5,2004.2 996.1,2006.1 996.6,2008.1 997.2,2010.0 997.7,2011.9 998.3,2013.9 998.9,2015.8 999.4,2017.8 1000.0,2019.7 1000.6,2021.7 1001.1,2023.6 1001.7,2025.5 1002.3,2027.5 1002.9,2029.4 1003.4,2031.4 1004.0,2033.3 1004.6,2035.3 1005.2,2037.2 1005.8,2039.1 1006.4,2041.1 1007.0,2043.0 1007.6,2045.0 1008.1,2046.9 1008.7,2048.8 1009.3,2050.8 1009.9,2052.7 1010.5,2054.6 1011.1,2056.6 1011.7,2058.5 1012.3,2060.5 1012.9,2062.4 1013.6,2064.3 1014.2,2066.3 1014.8,2068.2 1015.4,2070.1 1016.0,2072.1 1016.6,2074.0 1017.2,2075.9 1017.8,2077.8 1018.4,2079.8 1019.0,2081.7 1019.6,2083.6 1020.2,2085.5 1020.8,2087.5 1021.5,2089.4 1022.1,2091.3 1022.7,2093.2 1023.3,2095.1 1023.9,2097.1 1024.5,2099.0 1025.1,2100.9 1025.7,2102.8 1026.3,2104.7 1026.9,2106.6 1027.5,2108.5 1028.1,2110.4 1028.7,2112.3 1029.3,2114.2 1029.9,2116.1 1030.5,2118.0 1031.1,2119.9 1031.7,2121.8 1032.3,2123.7 1032.9,2125.6 1033.5,2127.5 1034.1,2129.4 1034.7,2131.3 1035.3,2133.2 1035.9,2135.0 1036.5,2136.9 1037.0,2138.8 1037.6,2140.7 1038.2,2142.5 1038.8,2144.4 1039.4,2146.3 1039.9,2148.1 1040.5,2150.0 1041.3,2148.0 1042.0,2145.9 1042.7,2143.9 1043.5,2141.9 1044.2,2139.9 1044.8,2137.9 1045.5,2135.9 1046.1,2134.0 1046.8,2132.0 1047.4,2130.1 1048.0,2128.2 1048.6,2126.3 1049.2,2124.4 1049.7,2122.5 1050.3,2120.6 1050.9,2118.7 1051.5,2116.8 1052.0,2115.0 1052.6,2113.1 1053.1,2111.3 1053.7,2109.4 1054.3,2107.6 1054.8,2105.8 1055.4,2104.0 1056.0,2102.1 1056.6,2100.3 1057.2,2098.5 1057.8,2096.7 1058.4,2094.9 1059.0,2093.1 1059.7,2091.3 1060.3,2089.5 1061.0,2087.7 1061.7,2085.9 1062.4,2084.1 1063.1,2082.3 1063.8,2080.5 1064.6,2078.6 1065.4,2076.8 1066.2,2075.0 1067.0,2073.2 1067.9,2071.4 1068.8,2069.6 1069.7,2067.8 1070.7,2065.9 1071.6,2064.1 1072.6,2062.3 1073.7,2060.4 1074.8,2058.6 1075.9,2056.7 1077.0,2054.9 1078.2,2053.1 1079.4,2051.3 1080.6,2049.5 1081.9,2047.7 1083.2,2046.0 1084.5,2044.3 1085.9,2042.6 1087.3,2041.0 1088.7,2039.5 1090.2,2038.0 1091.6,2036.5 1093.1,2035.2 1094.6,2033.9 1096.2,2032.6 1097.8,2031.5 1099.4,2030.4 1101.0,2029.5 1102.7,2028.6 1104.3,2027.8 1106.0,2027.1 1107.8,2026.5 1109.5,2026.1 1111.3,2025.8 1113.0,2025.5 1114.8,2025.4 1116.6,2025.4 1118.5,2025.5 1120.3,2025.6 1122.1,2025.9 1123.9,2026.3 1125.7,2026.8 1127.5,2027.3 1129.3,2028.0 1131.1,2028.7 1132.8,2029.5 1134.5,2030.3 1136.2,2031.3 1137.9,2032.3 1139.5,2033.4 1141.1,2034.5 1142.7,2035.7 1144.3,2037.0 1145.8,2038.3 1147.3,2039.6 1148.7,2041.0 1150.2,2042.5 1151.6,2044.0 1153.0,2045.5 1154.4,2047.1 1155.8,2048.7 1157.1,2050.3 1158.4,2052.0 1159.7,2053.7 1161.0,2055.4 1162.3,2057.1 1163.5,2058.9 1164.8,2060.6 1166.0,2062.4 1167.2,2064.1 1168.4,2065.9 1169.6,2067.7 1170.7,2069.4 1171.9,2071.2 1173.1,2073.0 1174.2,2074.7 1175.3,2076.4 1176.5,2078.1 1177.6,2079.9 1178.7,2081.6 1179.8,2083.2 1180.9,2084.9 1182.0,2086.6 1183.1,2088.3 1184.3,2089.9 1185.4,2091.6 1186.5,2093.2 1187.6,2094.9 1188.7,2096.5 1189.8,2098.1 1190.9,2099.8 1192.0,2101.4 1193.1,2103.0 1194.2,2104.6 1195.4,2106.3 1196.5,2107.9 1197.6,2109.5 1198.8,2111.1 1199.9,2112.7 1201.1,2114.4 1202.3,2116.0 1203.5,2117.6 1204.7,2119.2 1205.9,2120.9 1207.1,2122.5 1208.4,2124.1 1209.6,2125.6 1210.9,2127.1 1212.2,2128.4 1213.5,2129.5 1214.8,2130.4 1216.1,2131.1 1217.5,2131.6 1218.9,2131.7 1220.3,2131.6 1221.7,2131.2 1223.1,2130.6 1224.6,2129.8 1226.1,2128.9 1227.6,2127.9 1229.1,2126.8 1230.6,2125.6 1232.1,2124.3 1233.7,2122.9 1235.3,2121.4 1236.9,2119.9 1238.5,2118.3 1240.1,2116.7 1241.7,2115.1 1243.4,2113.5 1245.1,2111.8 1246.8,2110.2 1248.4,2108.6 1250.2,2107.0 1251.9,2105.4 1253.6,2103.9 1255.4,2102.4 1257.1,2101.1 1258.9,2099.7 1260.7,2098.5 1262.5,2097.4 1264.3,2096.3 1266.1,2095.4 1267.9,2094.6 1269.8,2093.9 1271.6,2093.2 1273.5,2092.7 1275.3,2092.2 1277.2,2091.8 1279.0,2091.5 1280.9,2091.3 1282.8,2091.2 1284.6,2091.2 1286.5,2091.2 1288.4,2091.3 1290.2,2091.4 1292.1,2091.7 1293.9,2092.0 1295.8,2092.3 1297.6,2092.8 1299.5,2093.2 1301.3,2093.8 1303.1,2094.4 1304.9,2095.0 1306.7,2095.7 1308.5,2096.4 1310.3,2097.2 1312.1,2098.0 1313.8,2098.9 1315.6,2099.8 1317.3,2100.7 1319.1,2101.7 1320.8,2102.7 1322.5,2103.7 1324.2,2104.8 1326.0,2105.8 1327.7,2106.9 1329.4,2108.0 1331.1,2109.1 1332.8,2110.3 1334.6,2111.4 1336.3,2112.6 1338.0,2113.7 1339.7,2114.9 1341.5,2116.0 1343.2,2117.2 1345.0,2118.4 1346.7,2119.5 1348.5,2120.6 1350.3,2121.8 1352.0,2122.9 1353.8,2123.9 1355.6,2125.0 1357.4,2126.0 1359.3,2127.0 1361.1,2127.9 1362.9,2128.8 1364.7,2129.6 1366.6,2130.4 1368.4,2131.1 1370.3,2131.7 1372.1,2132.3 1374.0,2132.8 1375.9,2133.2 1377.7,2133.5 1379.6,2133.8 1381.5,2133.9 1383.4,2133.9 1385.3,2133.9 1387.2,2133.7 1389.1,2133.4 1391.0,2133.0 1392.9,2132.5 1394.9,2132.0 1396.8,2131.4 1398.7,2130.7 1400.6,2130.1 1402.6,2129.3 1404.5,2128.6 1406.5,2127.9 1408.4,2127.2 1410.4,2126.6 1412.3,2125.9 1414.3,2125.4 1416.2,2124.8 1418.2,2124.4 1420.2,2124.0 1422.1,2123.6 1424.1,2123.3 1426.1,2123.0 1428.0,2122.7 1430.0,2122.6 1432.0,2122.4 1433.9,2122.3 1435.9,2122.2 1437.9,2122.1 1439.9,2122.1 1441.9,2122.1 1443.8,2122.2 1445.8,2122.2 1447.8,2122.3 1449.8,2122.5 1451.8,2122.6 1453.7,2122.8 1455.7,2123.0 1457.7,2123.2 1459.7,2123.4 1461.7,2123.6 1463.6,2123.9 1465.6,2124.2 1467.6,2124.5 1469.6,2124.8 1471.6,2125.1 1473.6,2125.4 1475.5,2125.8 1477.5,2126.1 1479.5,2126.5 1481.5,2126.8 1483.5,2127.2 1485.5,2127.5 1487.4,2127.9 1489.4,2128.3 1491.4,2128.7 1493.4,2129.0 1495.4,2129.4 1497.4,2129.8 1499.4,2130.1 1501.3,2130.5 1503.3,2130.9 1505.3,2131.2 1507.3,2131.5 1509.3,2131.9 1511.3,2132.2 1513.3,2132.5 1515.3,2132.8 1517.2,2133.1 1519.2,2133.3 1521.2,2133.6 1523.2,2133.8 1525.2,2134.1 1527.2,2134.3 1529.2,2134.5 1531.2,2134.7 1533.1,2134.9 1535.1,2135.1 1537.1,2135.3 1539.1,2135.4 1541.1,2135.6 1543.1,2135.7 1545.1,2135.9 1547.1,2136.0 1549.1,2136.1 1551.1,2136.2 1553.0,2136.3 1555.0,2136.4 1557.0,2136.5 1559.0,2136.6 1561.0,2136.7 1563.0,2136.8 1565.0,2136.9 1567.0,2136.9 1569.0,2137.0 1571.0,2137.1 1573.0,2137.1 1575.0,2137.2 1577.0,2137.2 1578.9,2137.3 1580.9,2137.3 1582.9,2137.4 1584.9,2137.4 1586.9,2137.5 1588.9,2137.5 1590.9,2137.5 1592.9,2137.6 1594.9,2137.6 1596.9,2137.6 1598.9,2137.7 1600.9,2137.7 1602.9,2137.8 1604.9,2137.8 1606.9,2137.8 1608.9,2137.9 1610.9,2137.9 1612.8,2138.0 1614.8,2138.0 1616.8,2138.0 1618.8,2138.1 1620.8,2138.1 1622.8,2138.2 1624.8,2138.2 1626.8,2138.3 1628.8,2138.3 1630.8,2138.4 1632.8,2138.4 1634.8,2138.5 1636.8,2138.5 1638.8,2138.6 1640.8,2138.6 1642.8,2138.7 1644.8,2138.7 1646.8,2138.8 1648.8,2138.8 1650.8,2138.9 1652.8,2138.9 1654.8,2139.0 1656.8,2139.0 1658.8,2139.1 1660.8,2139.1 1662.8,2139.2 1664.8,2139.3 1666.8,2139.3 1668.8,2139.4 1670.8,2139.4 1672.8,2139.5 1674.8,2139.5 1676.8,2139.6 1678.8,2139.7 1680.8,2139.7 1682.8,2139.8 1684.8,2139.8 1686.8,2139.9 1688.8,2140.0 1690.8,2140.0 1692.8,2140.1 1694.8,2140.1 1696.8,2140.2 1698.8,2140.3 1700.8,2140.3 1702.8,2140.4 1704.8,2140.4 1706.8,2140.5 1708.8,2140.6 1710.8,2140.6 1712.8,2140.7 1714.8,2140.8 1716.8,2140.8 1718.8,2140.9 1720.8,2141.0 1722.8,2141.0 1724.8,2141.1 1726.8,2141.1 1728.8,2141.2 1730.8,2141.3 1732.8,2141.3 1734.8,2141.4 1736.8,2141.5 1738.8,2141.5 1740.8,2141.6 1742.8,2141.7 1744.8,2141.7 1746.8,2141.8 1748.8,2141.9 1750.8,2141.9 1752.8,2142.0 1754.8,2142.1 1756.8,2142.1 1758.8,2142.2 1760.8,2142.3 1762.8,2142.3 1764.8,2142.4 1766.8,2142.5 1768.8,2142.5 1770.8,2142.6 1772.8,2142.7 1774.8,2142.7 1776.8,2142.8 1778.8,2142.9 1780.8,2142.9 1782.8,2143.0 1784.8,2143.1 1786.8,2143.1 1788.9,2143.2 1790.9,2143.3 1792.9,2143.3 1794.9,2143.4 1796.9,2143.5 1798.9,2143.5 1800.9,2143.6 1802.9,2143.7 1804.9,2143.7 1806.9,2143.8 1808.9,2143.9 1810.9,2143.9 1812.9,2144.0 1814.9,2144.1 1816.9,2144.1 1818.9,2144.2 1820.9,2144.3 1822.9,2144.3 1824.9,2144.4 1826.9,2144.4 1828.9,2144.5 1830.9,2144.6 1832.9,2144.6 1834.9,2144.7 1836.9,2144.8 1838.9,2144.8 1840.9,2144.9 1842.9,2144.9 1844.9,2145.0 1846.9,2145.1 1848.9,2145.1 1850.9,2145.2 1852.9,2145.2 1855.0,2145.3 1857.0,2145.4 1859.0,2145.4 1861.0,2145.5 1863.0,2145.5 1865.0,2145.6 1867.0,2145.7 1869.0,2145.7 1871.0,2145.8 1873.0,2145.8 1875.0,2145.9 1877.0,2145.9 1879.0,2146.0 1881.0,2146.0 1883.0,2146.1 1885.0,2146.1 1887.0,2146.2 1889.0,2146.2 1891.0,2146.3 1893.0,2146.4 1895.0,2146.4 1897.0,2146.5 1899.0,2146.5 1901.0,2146.5 1903.0,2146.6 1905.0,2146.6 1907.0,2146.7 1909.0,2146.7 1911.0,2146.8 1913.0,2146.8 1915.0,2146.9 1917.0,2146.9 1919.0,2147.0 1921.0,2147.0 1923.0,2147.0 1925.0,2147.1 1927.0,2147.1 1929.0,2147.2 1931.1,2147.2 1933.1,2147.2 1935.1,2147.3 1937.1,2147.3 1939.1,2147.4 1941.1,2147.4 1943.1,2147.4 1945.1,2147.5 1947.1,2147.5 1949.1,2147.5 1951.1,2147.6 1953.1,2147.6 1955.1,2147.6 1957.1,2147.7 1959.1,2147.7 1961.1,2147.7 1963.1,2147.7 1965.1,2147.8 1967.1,2147.8 1969.1,2147.8 1971.1,2147.8 1973.1,2147.9 1975.1,2147.9 1977.1,2147.9 1979.1,2147.9 1981.1,2147.9 1983.1,2148.0 1985.1,2148.0 1987.1,2148.0 1989.1,2148.0 1991.1,2148.0 1993.1,2148.0 1995.1,2148.1 1997.1,2148.1 1999.1,2148.1 2001.1,2148.1 2003.1,2148.1 2005.1,2148.1 2007.1,2148.1 2009.1,2148.1 2011.1,2148.1 2013.1,2148.1 2015.1,2148.1 2017.1,2148.1 2019.1,2148.1 2021.0,2148.1 2023.0,2148.1 2025.0,2148.1 2027.0,2148.1 2029.0,2148.1 2031.0,2148.1 2033.0,2148.1 2035.0,2148.1 2037.0,2148.1 2039.0,2148.1 2041.0,2148.1 2043.0,2148.1 2045.0,2148.1 2047.0,2148.0 2049.0,2148.0 2051.0,2148.0 2053.0,2148.0"/>
<path stroke="#0000ff" d="M350.6,2139.3 352.5,2139.3 354.5,2139.3 356.4,2139.3 358.3,2139.2 360.3,2139.1 362.2,2139.0 364.2,2138.8 366.1,2138.7 368.1,2138.5 370.0,2138.2 372.0,2138.0 374.0,2137.7 375.9,2137.5 377.9,2137.2 379.9,2136.8 381.8,2136.5 383.8,2136.2 385.8,2135.8 387.8,2135.4 389.8,2135.0 391.7,2134.6 393.7,2134.2 395.7,2133.8 397.7,2133.4 399.7,2132.9 401.7,2132.5 403.7,2132.0 405.7,2131.6 407.6,2131.1 409.6,2130.6 411.6,2130.2 413.6,2129.7 415.6,2129.3 417.6,2128.8 419.6,2128.3 421.6,2127.9 423.6,2127.4 425.6,2127.0 427.6,2126.6 429.6,2126.1 431.6,2125.7 433.6,2125.3 435.7,2124.9 437.7,2124.5 439.7,2124.2 441.7,2123.8 443.7,2123.5 445.7,2123.1 447.7,2122.8 449.7,2122.5 451.7,2122.3 453.7,2122.0 455.7,2121.7 457.7,2121.5 459.7,2121.3 461.7,2121.1 463.7,2120.9 465.7,2120.8 467.7,2120.7 469.7,2120.5 471.7,2120.5 473.7,2120.4 475.7,2120.3 477.7,2120.3 479.7,2120.3 481.6,2120.3 483.6,2120.4 485.6,2120.4 487.6,2120.5 489.6,2120.6 491.6,2120.8 493.6,2120.9 495.5,2121.1 497.5,2121.3 499.5,2121.5 501.4,2121.8 503.4,2122.1 505.4,2122.4 507.4,2122.8 509.3,2123.1 511.3,2123.5 513.2,2124.0 515.2,2124.4 517.1,2124.8 519.1,2125.3 521.0,2125.7 522.9,2126.1 524.9,2126.4 526.8,2126.8 528.7,2127.1 530.6,2127.3 532.5,2127.4 534.4,2127.5 536.2,2127.6 538.1,2127.5 539.9,2127.3 541.8,2127.1 543.6,2126.7 545.4,2126.2 547.2,2125.6 549.0,2124.8 550.7,2123.9 552.5,2123.0 554.2,2121.9 555.9,2120.7 557.6,2119.5 559.3,2118.2 560.9,2116.8 562.5,2115.4 564.2,2113.9 565.7,2112.5 567.3,2111.0 568.9,2109.4 570.4,2107.9 571.9,2106.4 573.4,2104.9 574.8,2103.4 576.3,2101.8 577.7,2100.3 579.2,2098.8 580.6,2097.2 582.0,2095.7 583.4,2094.2 584.8,2092.7 586.1,2091.2 587.5,2089.7 588.9,2088.2 590.3,2086.7 591.7,2085.3 593.1,2083.8 594.4,2082.4 595.8,2081.0 597.2,2079.6 598.7,2078.2 600.1,2076.9 601.5,2075.6 603.0,2074.3 604.4,2073.0 605.9,2071.7 607.4,2070.5 608.9,2069.3 610.4,2068.1 612.0,2067.0 613.6,2065.9 615.2,2064.8 616.8,2063.8 618.5,2062.8 620.2,2061.8 621.9,2060.9 623.6,2060.0 625.4,2059.2 627.2,2058.4 629.0,2057.6 630.9,2056.9 632.7,2056.3 634.6,2055.7 636.4,2055.2 638.3,2054.7 640.2,2054.3 642.1,2054.0 644.0,2053.7 645.9,2053.5 647.9,2053.4 649.8,2053.4 651.7,2053.4 653.6,2053.5 655.5,2053.7 657.4,2053.9 659.3,2054.3 661.2,2054.7 663.1,2055.3 664.9,2055.9 666.8,2056.6 668.6,2057.4 670.4,2058.3 672.2,2059.3 673.9,2060.3 675.7,2061.5 677.4,2062.7 679.1,2063.9 680.7,2065.3 682.3,2066.7 683.9,2068.1 685.5,2069.6 687.0,2071.1 688.5,2072.7 689.9,2074.3 691.3,2076.0 692.6,2077.7 693.9,2079.4 695.2,2081.1 696.4,2082.9 697.5,2084.7 698.7,2086.4 699.8,2088.2 700.8,2090.0 701.9,2091.8 702.9,2093.6 703.9,2095.4 704.9,2097.2 705.8,2099.0 706.8,2100.8 707.8,2102.6 708.8,2104.3 709.7,2106.1 710.7,2107.8 711.8,2109.5 712.8,2111.1 713.8,2112.8 714.9,2114.4 716.1,2116.0 717.2,2117.5 718.4,2119.0 719.7,2120.5 721.0,2121.9 722.3,2123.1 723.7,2124.3 725.2,2125.3 726.7,2126.0 728.3,2126.4 729.9,2126.6 731.6,2126.5 733.2,2126.2 734.7,2125.6 736.2,2124.8 737.5,2123.8 738.8,2122.7 739.9,2121.4 741.0,2120.0 742.0,2118.5 743.0,2116.8 743.9,2115.0 744.7,2113.2 745.5,2111.2 746.3,2109.2 747.0,2107.1 747.7,2105.0 748.3,2102.8 749.0,2100.6 749.6,2098.4 750.2,2096.2 750.8,2094.0 751.5,2091.8 752.1,2089.7 752.8,2087.5 753.5,2085.5 754.1,2083.4 754.8,2081.4 755.5,2079.3 756.2,2077.4 756.9,2075.4 757.7,2073.4 758.4,2071.5 759.1,2069.6 759.9,2067.7 760.6,2065.8 761.3,2064.0 762.1,2062.1 762.8,2060.3 763.6,2058.5 764.3,2056.7 765.1,2054.9 765.8,2053.1 766.6,2051.3 767.3,2049.5 768.0,2047.7 768.8,2045.9 769.5,2044.1 770.2,2042.4 770.9,2040.6 771.6,2038.8 772.3,2037.0 773.0,2035.3 773.7,2033.5 774.4,2031.7 775.1,2029.9 775.7,2028.1 776.4,2026.3 777.0,2024.4 777.6,2022.6 778.3,2020.8 778.9,2019.0 779.5,2017.1 780.1,2015.3 780.7,2013.5 781.3,2011.6 781.9,2009.8 782.5,2007.9 783.1,2006.0 783.7,2004.2 784.2,2002.3 784.8,2000.4 785.4,1998.6 786.0,1996.7 786.5,1994.8 787.1,1992.9 787.7,1991.0 788.2,1989.1 788.8,1987.3 789.4,1985.4 789.9,1983.5 790.5,1981.6 791.1,1979.7 791.6,1977.8 792.2,1975.9 792.8,1974.0 793.3,1972.0 793.9,1970.1 794.5,1968.2 795.1,1966.3 795.7,1964.4 796.3,1962.5 796.9,1960.6 797.5,1958.7 798.1,1956.7 798.7,1954.8 799.3,1952.9 799.9,1951.0 800.6,1949.1 801.2,1947.2 801.9,1945.2 802.5,1943.3 803.2,1941.4 803.9,1939.5 804.5,1937.6 805.2,1935.7 805.9,1933.8 806.6,1931.8 807.4,1929.9 808.1,1928.0 808.8,1926.1 809.6,1924.2 810.4,1922.3 811.1,1920.4 811.9,1918.5 812.7,1916.6 813.6,1914.7 814.4,1912.8 815.3,1910.9 816.1,1909.0 817.0,1907.1 817.9,1905.3 818.8,1903.4 819.7,1901.5 820.7,1899.6 821.6,1897.8 822.6,1895.9 823.6,1894.1 824.6,1892.2 825.6,1890.4 826.7,1888.6 827.7,1886.8 828.8,1885.0 829.9,1883.2 831.1,1881.5 832.2,1879.8 833.4,1878.1 834.6,1876.4 835.8,1874.7 837.0,1873.1 838.2,1871.5 839.5,1869.9 840.8,1868.4 842.1,1866.9 843.5,1865.4 844.9,1864.0 846.3,1862.6 847.7,1861.3 849.1,1860.0 850.6,1858.7 852.1,1857.5 853.6,1856.3 855.2,1855.1 856.7,1854.1 858.3,1853.0 859.9,1852.0 861.6,1851.1 863.3,1850.3 864.9,1849.5 866.6,1848.8 868.3,1848.1 870.1,1847.5 871.8,1847.0 873.5,1846.6 875.3,1846.3 877.0,1846.1 878.8,1845.9 880.6,1845.9 882.3,1845.9 884.1,1846.1 885.8,1846.4 887.6,1846.7 889.3,1847.2 891.0,1847.8 892.7,1848.6 894.4,1849.4 896.1,1850.4 897.8,1851.5 899.4,1852.7 901.0,1854.0 902.6,1855.5 904.2,1857.0 905.8,1858.5 907.3,1860.2 908.8,1861.8 910.2,1863.6 911.6,1865.4 913.0,1867.1 914.4,1869.0 915.7,1870.8 917.0,1872.6 918.2,1874.4 919.4,1876.2 920.5,1878.0 921.6,1879.8 922.7,1881.6 923.8,1883.4 924.8,1885.3 925.8,1887.1 926.7,1888.9 927.7,1890.7 928.6,1892.5 929.4,1894.3 930.3,1896.1 931.1,1897.9 932.0,1899.7 932.7,1901.5 933.5,1903.3 934.3,1905.1 935.0,1906.9 935.8,1908.7 936.5,1910.5 937.2,1912.4 937.9,1914.2 938.6,1916.0 939.3,1917.8 940.0,1919.6 940.6,1921.5 941.3,1923.3 942.0,1925.1 942.6,1927.0 943.3,1928.8 944.0,1930.6 944.6,1932.5 945.3,1934.3 946.0,1936.2 946.6,1938.0 947.3,1939.9 948.0,1941.7 948.6,1943.6 949.3,1945.4 949.9,1947.3 950.6,1949.2 951.3,1951.0 951.9,1952.9 952.6,1954.8 953.2,1956.6 953.9,1958.5 954.6,1960.4 955.2,1962.3 955.9,1964.1 956.5,1966.0 957.2,1967.9 957.8,1969.8 958.5,1971.7 959.2,1973.6 959.8,1975.4 960.5,1977.3 961.1,1979.2 961.8,1981.1 962.5,1983.0 963.1,1984.9 963.8,1986.8 964.5,1988.7 965.1,1990.6 965.8,1992.4 966.5,1994.3 967.1,1996.2 967.8,1998.1 968.5,2000.0 969.2,2001.9 969.8,2003.8 970.5,2005.7 971.2,2007.6 971.9,2009.5 972.6,2011.4 973.2,2013.3 973.9,2015.2 974.6,2017.1 975.3,2019.0 976.0,2020.9 976.7,2022.8 977.4,2024.6 978.1,2026.5 978.8,2028.4 979.5,2030.3 980.2,2032.2 980.9,2034.1 981.6,2036.0 982.3,2037.9 983.1,2039.8 983.8,2041.6 984.5,2043.5 985.2,2045.4 986.0,2047.3 986.7,2049.2 987.4,2051.1 988.2,2052.9 988.9,2054.8 989.7,2056.7 990.4,2058.5 991.2,2060.4 991.9,2062.3 992.7,2064.2 993.5,2066.0 994.2,2067.9 995.0,2069.7 995.8,2071.6 996.6,2073.5 997.4,2075.3 998.2,2077.2 999.0,2079.0 999.8,2080.9 1000.6,2082.7 1001.4,2084.5 1002.2,2086.4 1003.0,2088.2 1003.8,2090.0 1004.7,2091.9 1005.5,2093.7 1006.3,2095.5 1007.2,2097.4 1008.0,2099.2 1008.9,2101.0 1009.7,2102.8 1010.6,2104.6 1011.5,2106.4 1012.3,2108.2 1013.2,2110.0 1014.1,2111.8 1015.0,2113.6 1015.9,2115.4 1016.8,2117.2 1017.7,2118.9 1018.6,2120.7 1019.6,2122.5 1020.5,2124.3 1021.4,2126.0 1022.4,2127.8 1023.3,2129.5 1024.3,2131.3 1025.2,2133.0 1026.2,2134.8 1027.2,2136.5 1028.1,2138.3 1029.1,2140.0 1030.1,2141.7 1031.1,2143.4 1032.1,2145.1 1033.2,2146.8 1034.2,2148.6 1035.2,2150.3 1036.2,2151.9 1037.3,2153.6 1038.3,2155.3 1039.4,2157.0 1040.3,2155.3 1041.2,2153.7 1042.2,2152.0 1043.2,2150.3 1044.2,2148.6 1045.3,2146.9 1046.5,2145.2 1047.6,2143.5 1048.8,2141.9 1050.1,2140.2 1051.3,2138.6 1052.6,2136.9 1054.0,2135.3 1055.3,2133.7 1056.7,2132.1 1058.1,2130.6 1059.6,2129.0 1061.1,2127.5 1062.6,2126.1 1064.1,2124.6 1065.6,2123.2 1067.2,2121.9 1068.8,2120.6 1070.4,2119.3 1072.0,2118.1 1073.7,2116.9 1075.3,2115.8 1077.0,2114.7 1078.7,2113.7 1080.4,2112.7 1082.1,2111.8 1083.9,2111.0 1085.6,2110.2 1087.4,2109.5 1089.1,2108.9 1090.9,2108.3 1092.7,2107.8 1094.5,2107.4 1096.3,2107.0 1098.1,2106.7 1099.9,2106.5 1101.7,2106.3 1103.5,2106.2 1105.3,2106.2 1107.1,2106.2 1109.0,2106.2 1110.8,2106.4 1112.6,2106.5 1114.5,2106.8 1116.3,2107.1 1118.2,2107.4 1120.0,2107.8 1121.8,2108.3 1123.7,2108.8 1125.5,2109.4 1127.4,2110.0 1129.2,2110.6 1131.0,2111.3 1132.9,2112.1 1134.7,2112.9 1136.5,2113.8 1138.4,2114.7 1140.2,2115.6 1142.0,2116.6 1143.8,2117.6 1145.7,2118.7 1147.5,2119.8 1149.3,2120.9 1151.1,2122.1 1152.9,2123.3 1154.7,2124.5 1156.5,2125.7 1158.3,2126.9 1160.0,2128.1 1161.8,2129.3 1163.6,2130.6 1165.4,2131.8 1167.2,2133.0 1169.0,2134.2 1170.8,2135.3 1172.6,2136.5 1174.4,2137.6 1176.2,2138.7 1178.0,2139.8 1179.8,2140.8 1181.6,2141.7 1183.4,2142.7 1185.3,2143.5 1187.1,2144.4 1188.9,2145.1 1190.7,2145.8 1192.6,2146.4 1194.4,2147.0 1196.3,2147.4 1198.1,2147.8 1200.0,2148.1 1201.9,2148.4 1203.7,2148.5 1205.6,2148.5 1207.5,2148.5 1209.4,2148.4 1211.3,2148.2 1213.3,2147.9 1215.2,2147.6 1217.1,2147.2 1219.0,2146.8 1221.0,2146.4 1222.9,2145.9 1224.9,2145.5 1226.8,2145.0 1228.8,2144.5 1230.7,2144.0 1232.7,2143.5 1234.6,2143.0 1236.6,2142.6 1238.5,2142.2 1240.5,2141.8 1242.5,2141.5 1244.4,2141.2 1246.4,2140.9 1248.3,2140.7 1250.3,2140.5 1252.3,2140.3 1254.2,2140.2 1256.2,2140.0 1258.2,2139.9 1260.1,2139.9 1262.1,2139.8 1264.1,2139.8 1266.0,2139.8 1268.0,2139.8 1270.0,2139.9 1271.9,2140.0 1273.9,2140.0 1275.9,2140.1 1277.8,2140.2 1279.8,2140.4 1281.8,2140.5 1283.7,2140.7 1285.7,2140.8 1287.7,2141.0 1289.6,2141.2 1291.6,2141.4 1293.6,2141.6 1295.5,2141.8 1297.5,2142.0 1299.5,2142.2 1301.5,2142.4 1303.4,2142.6 1305.4,2142.8 1307.4,2143.1 1309.4,2143.3 1311.3,2143.5 1313.3,2143.7 1315.3,2143.9 1317.3,2144.1 1319.2,2144.3 1321.2,2144.6 1323.2,2144.8 1325.2,2145.0 1327.1,2145.2 1329.1,2145.4 1331.1,2145.6 1333.1,2145.8 1335.1,2146.0 1337.0,2146.2 1339.0,2146.4 1341.0,2146.6 1343.0,2146.8 1345.0,2147.0 1346.9,2147.2 1348.9,2147.3 1350.9,2147.5 1352.9,2147.7 1354.9,2147.8 1356.9,2148.0 1358.8,2148.2 1360.8,2148.3 1362.8,2148.5 1364.8,2148.6 1366.8,2148.8 1368.8,2148.9 1370.7,2149.0 1372.7,2149.2 1374.7,2149.3 1376.7,2149.4 1378.7,2149.6 1380.7,2149.7 1382.7,2149.8 1384.6,2149.9 1386.6,2150.0 1388.6,2150.1 1390.6,2150.2 1392.6,2150.3 1394.6,2150.4 1396.6,2150.5 1398.6,2150.6 1400.6,2150.7 1402.5,2150.8 1404.5,2150.9 1406.5,2151.0 1408.5,2151.1 1410.5,2151.1 1412.5,2151.2 1414.5,2151.3 1416.5,2151.4 1418.5,2151.4 1420.5,2151.5 1422.5,2151.6 1424.5,2151.6 1426.4,2151.7 1428.4,2151.7 1430.4,2151.8 1432.4,2151.8 1434.4,2151.9 1436.4,2151.9 1438.4,2152.0 1440.4,2152.0 1442.4,2152.0 1444.4,2152.1 1446.4,2152.1 1448.4,2152.1 1450.4,2152.2 1452.4,2152.2 1454.4,2152.2 1456.4,2152.3 1458.4,2152.3 1460.4,2152.3 1462.4,2152.3 1464.4,2152.3 1466.4,2152.4 1468.4,2152.4 1470.4,2152.4 1472.4,2152.4 1474.4,2152.4 1476.4,2152.4 1478.4,2152.4 1480.4,2152.4 1482.4,2152.4 1484.4,2152.4 1486.4,2152.4 1488.4,2152.4 1490.4,2152.4 1492.4,2152.4 1494.4,2152.4 1496.4,2152.4 1498.4,2152.4 1500.4,2152.4 1502.4,2152.4 1504.4,2152.4 1506.4,2152.4 1508.4,2152.4 1510.4,2152.4 1512.4,2152.3 1514.4,2152.3 1516.4,2152.3 1518.4,2152.3 1520.4,2152.3 1522.4,2152.3 1524.4,2152.2 1526.4,2152.2 1528.4,2152.2 1530.4,2152.2 1532.4,2152.2 1534.4,2152.1 1536.4,2152.1 1538.4,2152.1 1540.4,2152.1 1542.5,2152.1 1544.5,2152.0 1546.5,2152.0 1548.5,2152.0 1550.5,2152.0 1552.5,2151.9 1554.5,2151.9 1556.5,2151.9 1558.5,2151.9 1560.5,2151.8 1562.5,2151.8 1564.5,2151.8 1566.5,2151.8 1568.5,2151.8 1570.5,2151.7 1572.6,2151.7 1574.6,2151.7 1576.6,2151.7 1578.6,2151.6 1580.6,2151.6 1582.6,2151.6 1584.6,2151.6 1586.6,2151.5 1588.6,2151.5 1590.6,2151.5 1592.6,2151.5 1594.6,2151.5 1596.6,2151.4 1598.7,2151.4 1600.7,2151.4 1602.7,2151.4 1604.7,2151.4 1606.7,2151.4 1608.7,2151.3 1610.7,2151.3 1612.7,2151.3 1614.7,2151.3 1616.7,2151.3 1618.7,2151.3 1620.8,2151.3 1622.8,2151.3 1624.8,2151.3 1626.8,2151.3 1628.8,2151.3 1630.8,2151.2 1632.8,2151.2 1634.8,2151.2 1636.8,2151.2 1638.8,2151.2 1640.9,2151.2 1642.9,2151.2 1644.9,2151.2 1646.9,2151.2 1648.9,2151.3 1650.9,2151.3 1652.9,2151.3 1654.9,2151.3 1656.9,2151.3 1659.0,2151.3 1661.0,2151.3 1663.0,2151.3 1665.0,2151.3 1667.0,2151.3 1669.0,2151.3 1671.0,2151.4 1673.0,2151.4 1675.0,2151.4 1677.0,2151.4 1679.1,2151.4 1681.1,2151.4 1683.1,2151.4 1685.1,2151.5 1687.1,2151.5 1689.1,2151.5 1691.1,2151.5 1693.1,2151.5 1695.1,2151.6 1697.2,2151.6 1699.2,2151.6 1701.2,2151.6 1703.2,2151.6 1705.2,2151.7 1707.2,2151.7 1709.2,2151.7 1711.2,2151.7 1713.2,2151.8 1715.3,2151.8 1717.3,2151.8 1719.3,2151.9 1721.3,2151.9 1723.3,2151.9 1725.3,2151.9 1727.3,2152.0 1729.3,2152.0 1731.3,2152.0 1733.3,2152.1 1735.4,2152.1 1737.4,2152.1 1739.4,2152.1 1741.4,2152.2 1743.4,2152.2 1745.4,2152.2 1747.4,2152.3 1749.4,2152.3 1751.4,2152.3 1753.4,2152.4 1755.5,2152.4 1757.5,2152.4 1759.5,2152.5 1761.5,2152.5 1763.5,2152.5 1765.5,2152.6 1767.5,2152.6 1769.5,2152.6 1771.5,2152.7 1773.5,2152.7 1775.5,2152.7 1777.6,2152.8 1779.6,2152.8 1781.6,2152.9 1783.6,2152.9 1785.6,2152.9 1787.6,2153.0 1789.6,2153.0 1791.6,2153.0 1793.6,2153.1 1795.6,2153.1 1797.6,2153.1 1799.6,2153.2 1801.7,2153.2 1803.7,2153.2 1805.7,2153.3 1807.7,2153.3 1809.7,2153.4 1811.7,2153.4 1813.7,2153.4 1815.7,2153.5 1817.7,2153.5 1819.7,2153.5 1821.7,2153.6 1823.7,2153.6 1825.7,2153.6 1827.7,2153.7 1829.7,2153.7 1831.8,2153.7 1833.8,2153.8 1835.8,2153.8 1837.8,2153.8 1839.8,2153.9 1841.8,2153.9 1843.8,2153.9 1845.8,2154.0 1847.8,2154.0 1849.8,2154.0 1851.8,2154.1 1853.8,2154.1 1855.8,2154.1 1857.8,2154.2 1859.8,2154.2 1861.8,2154.2 1863.8,2154.2 1865.8,2154.3 1867.8,2154.3 1869.8,2154.3 1871.8,2154.4 1873.8,2154.4 1875.8,2154.4 1877.8,2154.4 1879.8,2154.5 1881.8,2154.5 1883.8,2154.5 1885.8,2154.5 1887.8,2154.6 1889.8,2154.6 1891.8,2154.6 1893.8,2154.6 1895.8,2154.6 1897.8,2154.7 1899.8,2154.7 1901.8,2154.7 1903.8,2154.7 1905.8,2154.7 1907.8,2154.8 1909.8,2154.8 1911.8,2154.8 1913.8,2154.8 1915.8,2154.8 1917.8,2154.8 1919.8,2154.8 1921.8,2154.9 1923.8,2154.9 1925.8,2154.9 1927.8,2154.9 1929.8,2154.9 1931.8,2154.9 1933.8,2154.9 1935.8,2154.9 1937.8,2154.9 1939.8,2154.9 1941.8,2154.9 1943.8,2154.9 1945.8,2155.0 1947.8,2155.0 1949.8,2155.0 1951.7,2155.0 1953.7,2155.0 1955.7,2155.0 1957.7,2155.0 1959.7,2154.9 1961.7,2154.9 1963.7,2154.9 1965.7,2154.9 1967.7,2154.9 1969.7,2154.9 1971.7,2154.9 1973.7,2154.9 1975.6,2154.9 1977.6,2154.9 1979.6,2154.9 1981.6,2154.8 1983.6,2154.8 1985.6,2154.8 1987.6,2154.8 1989.6,2154.8 1991.6,2154.8 1993.5,2154.7 1995.5,2154.7 1997.5,2154.7 1999.5,2154.7 2001.5,2154.6 2003.5,2154.6 2005.5,2154.6 2007.4,2154.6 2009.4,2154.5 2011.4,2154.5 2013.4,2154.5 2015.4,2154.4 2017.4,2154.4 2019.3,2154.3 2021.3,2154.3 2023.3,2154.3 2025.3,2154.2 2027.3,2154.2 2029.3,2154.1 2031.2,2154.1 2033.2,2154.0 2035.2,2154.0 2037.2,2153.9 2039.2,2153.9 2041.1,2153.8 2043.1,2153.8 2045.1,2153.7 2047.1,2153.7 2049.0,2153.6 2051.0,2153.6 2053.0,2153.5"/>
</g>
<rect x="350.6" y="1405" width="1705.4" height="752.5" fill="none" stroke="#000" stroke-width="6.5"/>
<text transform="translate(298.5,2188) scale(1,1.055)" font-size="87.3" text-anchor="end">0</text>
<text transform="translate(298.5,1994.7) scale(1,1.055)" font-size="87.3" text-anchor="end">10</text>
<text transform="translate(298.5,1801.4) scale(1,1.055)" font-size="87.3" text-anchor="end">20</text>
<text transform="translate(298.5,1608.1) scale(1,1.055)" font-size="87.3" text-anchor="end">30</text>
<text transform="translate(440.4,2274) scale(1,1.055)" font-size="87.3" text-anchor="middle">6.4</text>
<text transform="translate(619.9,2274) scale(1,1.055)" font-size="87.3" text-anchor="middle">6.6</text>
<text transform="translate(799.4,2274) scale(1,1.055)" font-size="87.3" text-anchor="middle">6.8</text>
<text transform="translate(978.9,2274) scale(1,1.055)" font-size="87.3" text-anchor="middle">7.0</text>
<text transform="translate(1158.4,2274) scale(1,1.055)" font-size="87.3" text-anchor="middle">7.2</text>
<text transform="translate(1337.9,2274) scale(1,1.055)" font-size="87.3" text-anchor="middle">7.4</text>
<text transform="translate(1203.3,2404) scale(1,1.055)" font-size="87.3" text-anchor="middle">Frequency / eV</text>
<text transform="translate(37,1403.5) scale(1,1.055)" font-size="87.3" text-anchor="start">(c)</text>
<text transform="translate(135.8,2066.5) rotate(-90) scale(1,1.055)" font-size="87.3"><tspan x="0" y="0" textLength="491" lengthAdjust="spacingAndGlyphs">|E(ω)| / GVm</tspan><tspan x="490.7" y="-34.2" font-size="70">−</tspan><tspan x="531" y="-42.1" font-size="70">1</tspan></text>
<text transform="translate(363.4,1506.5) scale(1,1.055)" font-size="87.3" text-anchor="start">E<tspan font-size="62" dx="2" dy="25.8">x</tspan></text>
<line x1="507.2" y1="1487.2" x2="652.1" y2="1487.2" stroke="#ff0000" stroke-width="6"/>
<text transform="translate(363.4,1594) scale(1,1.055)" font-size="87.3" text-anchor="start">E<tspan font-size="62" dx="2" dy="25.8">y</tspan></text>
<line x1="507.2" y1="1574.8" x2="652.1" y2="1574.8" stroke="#00c000" stroke-width="6"/>
<text transform="translate(363.4,1681.6) scale(1,1.055)" font-size="87.3" text-anchor="start">E<tspan font-size="62" dx="2" dy="25.8">z</tspan></text>
<line x1="507.2" y1="1662.3" x2="652.1" y2="1662.3" stroke="#0000ff" stroke-width="6"/>
<g stroke="#000" stroke-width="5.5">
<line x1="350.6" y1="1964.2" x2="389.6" y2="1964.2"/>
<line x1="350.6" y1="1770.9" x2="389.6" y2="1770.9"/>
<line x1="350.6" y1="1577.6" x2="389.6" y2="1577.6"/>
</g>
<rect x="1254.2" y="1460.2" width="751.2" height="419.6" fill="#fff"/>
<g stroke="#8c8c8c" stroke-width="2.5" stroke-dasharray="6 12.7" fill="none">
<line x1="1442" y1="1879.8" x2="1442" y2="1460.2"/>
<line x1="1817.6" y1="1879.8" x2="1817.6" y2="1460.2"/>
<line x1="1254.2" y1="1530.1" x2="2005.4" y2="1530.1"/>
<line x1="1254.2" y1="1670" x2="2005.4" y2="1670"/>
<line x1="1254.2" y1="1809.9" x2="2005.4" y2="1809.9"/>
</g>
<g stroke="#000" stroke-width="5">
<line x1="1442" y1="1879.8" x2="1442" y2="1840.8"/>
<line x1="1442" y1="1460.2" x2="1442" y2="1499.2"/>
<line x1="1629.8" y1="1879.8" x2="1629.8" y2="1859.8"/>
<line x1="1629.8" y1="1460.2" x2="1629.8" y2="1480.2"/>
<line x1="1817.6" y1="1879.8" x2="1817.6" y2="1840.8"/>
<line x1="1817.6" y1="1460.2" x2="1817.6" y2="1499.2"/>
<line x1="1254.2" y1="1530.1" x2="1294.2" y2="1530.1"/>
<line x1="1254.2" y1="1670" x2="1294.2" y2="1670"/>
<line x1="1254.2" y1="1809.9" x2="1294.2" y2="1809.9"/>
</g>
<g fill="none" stroke-width="3" stroke-linejoin="round">
<path stroke="#ff0000" d="M1254.2,1526.9 L1256.1,1533.3 L1258,1540.1 L1259.8,1547.2 L1261.7,1554.7 L1263.6,1562.5 L1265.5,1570.6 L1267.3,1579 L1269.2,1587.7 L1271.1,1596.5 L1273,1605.6 L1274.9,1614.8 L1276.7,1624.3 L1278.6,1633.8 L1280.5,1643.4 L1282.4,1653.1 L1284.2,1662.9 L1286.1,1672.7 L1288,1682.5 L1289.9,1692.2 L1291.8,1701.9 L1293.6,1711.5 L1295.5,1721 L1297.4,1730.4 L1299.3,1739.6 L1301.2,1748.6 L1303,1757.4 L1304.9,1765.9 L1306.8,1774.2 L1308.7,1782.2 L1310.5,1789.9 L1312.4,1797.3 L1314.3,1804.3 L1316.2,1811 L1318.1,1817.2 L1319.9,1823.1 L1321.8,1828.6 L1323.7,1833.6 L1325.6,1838.1 L1327.4,1842.2 L1329.3,1845.9 L1331.2,1849 L1333.1,1851.6 L1335,1853.8 L1336.8,1855.4 L1338.7,1856.6 L1340.6,1857.2 L1342.5,1857.3 L1344.3,1856.9 L1346.2,1856 L1348.1,1854.5 L1350,1852.6 L1351.9,1850.1 L1353.7,1847.2 L1355.6,1843.7 L1357.5,1839.8 L1359.4,1835.4 L1361.2,1830.6 L1363.1,1825.3 L1365,1819.6 L1366.9,1813.5 L1368.8,1806.9 L1370.6,1800 L1372.5,1792.8 L1374.4,1785.2 L1376.3,1777.2 L1378.1,1769 L1380,1760.5 L1381.9,1751.8 L1383.8,1742.8 L1385.7,1733.6 L1387.5,1724.2 L1389.4,1714.7 L1391.3,1705.1 L1393.2,1695.3 L1395.1,1685.5 L1396.9,1675.7 L1398.8,1665.8 L1400.7,1655.9 L1402.6,1646.1 L1404.4,1636.3 L1406.3,1626.7 L1408.2,1617.1 L1410.1,1607.7 L1412,1598.4 L1413.8,1589.4 L1415.7,1580.5 L1417.6,1571.9 L1419.5,1563.6 L1421.3,1555.6 L1423.2,1547.9 L1425.1,1540.5 L1427,1533.4 L1428.9,1526.8 L1430.7,1520.5 L1432.6,1514.7 L1434.5,1509.2 L1436.4,1504.2 L1438.2,1499.7 L1440.1,1495.7 L1442,1492.1 L1443.9,1489 L1445.8,1486.4 L1447.6,1484.3 L1449.5,1482.7 L1451.4,1481.6 L1453.3,1481.1 L1455.1,1481 L1457,1481.5 L1458.9,1482.6 L1460.8,1484.1 L1462.7,1486.1 L1464.5,1488.7 L1466.4,1491.7 L1468.3,1495.3 L1470.2,1499.3 L1472,1503.8 L1473.9,1508.7 L1475.8,1514.1 L1477.7,1520 L1479.6,1526.2 L1481.4,1532.9 L1483.3,1539.9 L1485.2,1547.3 L1487.1,1555 L1489,1563 L1490.8,1571.4 L1492.7,1580 L1494.6,1588.9 L1496.5,1597.9 L1498.3,1607.2 L1500.2,1616.7 L1502.1,1626.3 L1504,1636.1 L1505.9,1645.9 L1507.7,1655.8 L1509.6,1665.8 L1511.5,1675.7 L1513.4,1685.7 L1515.2,1695.6 L1517.1,1705.4 L1519,1715.2 L1520.9,1724.8 L1522.8,1734.3 L1524.6,1743.6 L1526.5,1752.7 L1528.4,1761.6 L1530.3,1770.2 L1532.1,1778.6 L1534,1786.6 L1535.9,1794.4 L1537.8,1801.8 L1539.7,1808.8 L1541.5,1815.5 L1543.4,1821.7 L1545.3,1827.6 L1547.2,1833 L1549,1837.9 L1550.9,1842.4 L1552.8,1846.5 L1554.7,1850 L1556.6,1853.1 L1558.4,1855.6 L1560.3,1857.6 L1562.2,1859.2 L1564.1,1860.2 L1565.9,1860.6 L1567.8,1860.6 L1569.7,1860 L1571.6,1858.9 L1573.5,1857.3 L1575.3,1855.2 L1577.2,1852.5 L1579.1,1849.4 L1581,1845.7 L1582.9,1841.6 L1584.7,1837 L1586.6,1831.9 L1588.5,1826.4 L1590.4,1820.4 L1592.2,1814.1 L1594.1,1807.3 L1596,1800.2 L1597.9,1792.7 L1599.8,1784.8 L1601.6,1776.7 L1603.5,1768.2 L1605.4,1759.5 L1607.3,1750.5 L1609.1,1741.3 L1611,1731.9 L1612.9,1722.3 L1614.8,1712.6 L1616.7,1702.7 L1618.5,1692.8 L1620.4,1682.8 L1622.3,1672.8 L1624.2,1662.7 L1626,1652.7 L1627.9,1642.7 L1629.8,1632.8 L1631.7,1623 L1633.6,1613.3 L1635.4,1603.7 L1637.3,1594.4 L1639.2,1585.2 L1641.1,1576.3 L1642.9,1567.6 L1644.8,1559.2 L1646.7,1551.2 L1648.6,1543.4 L1650.5,1536 L1652.3,1528.9 L1654.2,1522.3 L1656.1,1516 L1658,1510.2 L1659.8,1504.8 L1661.7,1499.9 L1663.6,1495.4 L1665.5,1491.4 L1667.4,1487.9 L1669.2,1484.9 L1671.1,1482.4 L1673,1480.4 L1674.9,1479 L1676.8,1478.1 L1678.6,1477.7 L1680.5,1477.8 L1682.4,1478.5 L1684.3,1479.6 L1686.1,1481.4 L1688,1483.6 L1689.9,1486.3 L1691.8,1489.6 L1693.7,1493.3 L1695.5,1497.6 L1697.4,1502.3 L1699.3,1507.5 L1701.2,1513.1 L1703,1519.2 L1704.9,1525.7 L1706.8,1532.5 L1708.7,1539.8 L1710.6,1547.4 L1712.4,1555.4 L1714.3,1563.7 L1716.2,1572.2 L1718.1,1581.1 L1719.9,1590.2 L1721.8,1599.5 L1723.7,1609 L1725.6,1618.7 L1727.5,1628.5 L1729.3,1638.5 L1731.2,1648.5 L1733.1,1658.6 L1735,1668.7 L1736.8,1678.9 L1738.7,1689 L1740.6,1699.1 L1742.5,1709 L1744.4,1718.9 L1746.2,1728.7 L1748.1,1738.3 L1750,1747.7 L1751.9,1756.9 L1753.7,1765.9 L1755.6,1774.6 L1757.5,1783 L1759.4,1791.1 L1761.3,1798.8 L1763.1,1806.3 L1765,1813.3 L1766.9,1820 L1768.8,1826.2 L1770.7,1832 L1772.5,1837.4 L1774.4,1842.3 L1776.3,1846.8 L1778.2,1850.7 L1780,1854.2 L1781.9,1857.1 L1783.8,1859.5 L1785.7,1861.5 L1787.6,1862.8 L1789.4,1863.7 L1791.3,1864 L1793.2,1863.8 L1795.1,1863.1 L1796.9,1861.8 L1798.8,1860 L1800.7,1857.6 L1802.6,1854.8 L1804.5,1851.4 L1806.3,1847.6 L1808.2,1843.2 L1810.1,1838.4 L1812,1833.1 L1813.8,1827.4 L1815.7,1821.2 L1817.6,1814.6 L1819.5,1807.6 L1821.4,1800.2 L1823.2,1792.5 L1825.1,1784.4 L1827,1776 L1828.9,1767.3 L1830.7,1758.3 L1832.6,1749.1 L1834.5,1739.7 L1836.4,1730.1 L1838.3,1720.3 L1840.1,1710.3 L1842,1700.3 L1843.9,1690.2 L1845.8,1680 L1847.6,1669.7 L1849.5,1659.5 L1851.4,1649.3 L1853.3,1639.2 L1855.2,1629.1 L1857,1619.2 L1858.9,1609.3 L1860.8,1599.7 L1862.7,1590.2 L1864.6,1581 L1866.4,1572 L1868.3,1563.3 L1870.2,1554.8 L1872.1,1546.7 L1873.9,1538.9 L1875.8,1531.5 L1877.7,1524.4 L1879.6,1517.8 L1881.5,1511.5 L1883.3,1505.7 L1885.2,1500.4 L1887.1,1495.5 L1889,1491.1 L1890.8,1487.2 L1892.7,1483.8 L1894.6,1480.9 L1896.5,1478.5 L1898.4,1476.6 L1900.2,1475.3 L1902.1,1474.5 L1904,1474.3 L1905.9,1474.6 L1907.7,1475.4 L1909.6,1476.8 L1911.5,1478.7 L1913.4,1481.1 L1915.3,1484.1 L1917.1,1487.6 L1919,1491.5 L1920.9,1496 L1922.8,1500.9 L1924.6,1506.3 L1926.5,1512.2 L1928.4,1518.5 L1930.3,1525.2 L1932.2,1532.3 L1934,1539.8 L1935.9,1547.7 L1937.8,1555.9 L1939.7,1564.4 L1941.5,1573.2 L1943.4,1582.3 L1945.3,1591.6 L1947.2,1601.2 L1949.1,1610.9 L1950.9,1620.8 L1952.8,1630.8 L1954.7,1641 L1956.6,1651.2 L1958.5,1661.5 L1960.3,1671.8 L1962.2,1682.1 L1964.1,1692.4 L1966,1702.6 L1967.8,1712.8 L1969.7,1722.8 L1971.6,1732.6 L1973.5,1742.4 L1975.4,1751.9 L1977.2,1761.2 L1979.1,1770.2 L1981,1779 L1982.9,1787.4 L1984.7,1795.6 L1986.6,1803.4 L1988.5,1810.8 L1990.4,1817.9 L1992.3,1824.5 L1994.1,1830.7 L1996,1836.5 L1997.9,1841.8 L1999.8,1846.7 L2001.6,1851.1 L2003.5,1854.9 L2005.4,1858.3"/>
<path stroke="#00c000" d="M1254.2,1801.2 L1256.1,1806.8 L1258,1812 L1259.8,1816.8 L1261.7,1821.2 L1263.6,1825.2 L1265.5,1828.8 L1267.3,1831.9 L1269.2,1834.6 L1271.1,1836.9 L1273,1838.7 L1274.9,1840 L1276.7,1840.9 L1278.6,1841.3 L1280.5,1841.2 L1282.4,1840.7 L1284.2,1839.7 L1286.1,1838.2 L1288,1836.3 L1289.9,1833.9 L1291.8,1831.1 L1293.6,1827.8 L1295.5,1824.1 L1297.4,1820 L1299.3,1815.5 L1301.2,1810.5 L1303,1805.2 L1304.9,1799.5 L1306.8,1793.5 L1308.7,1787.1 L1310.5,1780.4 L1312.4,1773.4 L1314.3,1766.1 L1316.2,1758.6 L1318.1,1750.8 L1319.9,1742.8 L1321.8,1734.6 L1323.7,1726.2 L1325.6,1717.7 L1327.4,1709 L1329.3,1700.2 L1331.2,1691.4 L1333.1,1682.4 L1335,1673.5 L1336.8,1664.5 L1338.7,1655.6 L1340.6,1646.7 L1342.5,1637.8 L1344.3,1629.1 L1346.2,1620.4 L1348.1,1611.9 L1350,1603.6 L1351.9,1595.4 L1353.7,1587.5 L1355.6,1579.7 L1357.5,1572.2 L1359.4,1565 L1361.2,1558.1 L1363.1,1551.4 L1365,1545.1 L1366.9,1539.2 L1368.8,1533.6 L1370.6,1528.3 L1372.5,1523.5 L1374.4,1519 L1376.3,1515 L1378.1,1511.4 L1380,1508.2 L1381.9,1505.5 L1383.8,1503.2 L1385.7,1501.4 L1387.5,1500 L1389.4,1499.1 L1391.3,1498.7 L1393.2,1498.7 L1395.1,1499.2 L1396.9,1500.2 L1398.8,1501.7 L1400.7,1503.6 L1402.6,1505.9 L1404.4,1508.7 L1406.3,1512 L1408.2,1515.6 L1410.1,1519.7 L1412,1524.2 L1413.8,1529.1 L1415.7,1534.4 L1417.6,1540.1 L1419.5,1546.1 L1421.3,1552.5 L1423.2,1559.2 L1425.1,1566.1 L1427,1573.4 L1428.9,1580.9 L1430.7,1588.7 L1432.6,1596.7 L1434.5,1604.9 L1436.4,1613.3 L1438.2,1621.8 L1440.1,1630.5 L1442,1639.2 L1443.9,1648.1 L1445.8,1657 L1447.6,1666 L1449.5,1674.9 L1451.4,1683.9 L1453.3,1692.8 L1455.1,1701.6 L1457,1710.4 L1458.9,1719 L1460.8,1727.6 L1462.7,1735.9 L1464.5,1744.1 L1466.4,1752.1 L1468.3,1759.8 L1470.2,1767.3 L1472,1774.6 L1473.9,1781.5 L1475.8,1788.2 L1477.7,1794.5 L1479.6,1800.5 L1481.4,1806.1 L1483.3,1811.4 L1485.2,1816.2 L1487.1,1820.7 L1489,1824.8 L1490.8,1828.4 L1492.7,1831.6 L1494.6,1834.3 L1496.5,1836.7 L1498.3,1838.5 L1500.2,1839.9 L1502.1,1840.8 L1504,1841.3 L1505.9,1841.3 L1507.7,1840.8 L1509.6,1839.9 L1511.5,1838.4 L1513.4,1836.6 L1515.2,1834.2 L1517.1,1831.5 L1519,1828.3 L1520.9,1824.6 L1522.8,1820.5 L1524.6,1816 L1526.5,1811.2 L1528.4,1805.9 L1530.3,1800.2 L1532.1,1794.2 L1534,1787.9 L1535.9,1781.3 L1537.8,1774.3 L1539.7,1767 L1541.5,1759.5 L1543.4,1751.8 L1545.3,1743.8 L1547.2,1735.6 L1549,1727.2 L1550.9,1718.7 L1552.8,1710 L1554.7,1701.3 L1556.6,1692.4 L1558.4,1683.5 L1560.3,1674.6 L1562.2,1665.6 L1564.1,1656.7 L1565.9,1647.7 L1567.8,1638.9 L1569.7,1630.1 L1571.6,1621.5 L1573.5,1612.9 L1575.3,1604.6 L1577.2,1596.4 L1579.1,1588.4 L1581,1580.6 L1582.9,1573.1 L1584.7,1565.9 L1586.6,1558.9 L1588.5,1552.2 L1590.4,1545.9 L1592.2,1539.9 L1594.1,1534.2 L1596,1528.9 L1597.9,1524 L1599.8,1519.6 L1601.6,1515.5 L1603.5,1511.8 L1605.4,1508.6 L1607.3,1505.8 L1609.1,1503.5 L1611,1501.6 L1612.9,1500.2 L1614.8,1499.2 L1616.7,1498.7 L1618.5,1498.7 L1620.4,1499.2 L1622.3,1500.1 L1624.2,1501.5 L1626,1503.3 L1627.9,1505.6 L1629.8,1508.4 L1631.7,1511.5 L1633.6,1515.2 L1635.4,1519.2 L1637.3,1523.7 L1639.2,1528.5 L1641.1,1533.8 L1642.9,1539.4 L1644.8,1545.4 L1646.7,1551.7 L1648.6,1558.3 L1650.5,1565.3 L1652.3,1572.5 L1654.2,1580 L1656.1,1587.8 L1658,1595.7 L1659.8,1603.9 L1661.7,1612.3 L1663.6,1620.8 L1665.5,1629.4 L1667.4,1638.2 L1669.2,1647 L1671.1,1655.9 L1673,1664.9 L1674.9,1673.9 L1676.8,1682.8 L1678.6,1691.7 L1680.5,1700.6 L1682.4,1709.3 L1684.3,1718 L1686.1,1726.5 L1688,1734.9 L1689.9,1743.1 L1691.8,1751.1 L1693.7,1758.9 L1695.5,1766.4 L1697.4,1773.7 L1699.3,1780.7 L1701.2,1787.4 L1703,1793.8 L1704.9,1799.8 L1706.8,1805.5 L1708.7,1810.8 L1710.6,1815.7 L1712.4,1820.2 L1714.3,1824.3 L1716.2,1828 L1718.1,1831.2 L1719.9,1834 L1721.8,1836.4 L1723.7,1838.3 L1725.6,1839.8 L1727.5,1840.7 L1729.3,1841.3 L1731.2,1841.3 L1733.1,1840.9 L1735,1840 L1736.8,1838.6 L1738.7,1836.8 L1740.6,1834.5 L1742.5,1831.8 L1744.4,1828.7 L1746.2,1825.1 L1748.1,1821 L1750,1816.6 L1751.9,1811.8 L1753.7,1806.5 L1755.6,1800.9 L1757.5,1795 L1759.4,1788.7 L1761.3,1782.1 L1763.1,1775.1 L1765,1767.9 L1766.9,1760.4 L1768.8,1752.7 L1770.7,1744.7 L1772.5,1736.6 L1774.4,1728.2 L1776.3,1719.7 L1778.2,1711.1 L1780,1702.3 L1781.9,1693.5 L1783.8,1684.6 L1785.7,1675.6 L1787.6,1666.7 L1789.4,1657.7 L1791.3,1648.8 L1793.2,1640 L1795.1,1631.2 L1796.9,1622.5 L1798.8,1614 L1800.7,1605.6 L1802.6,1597.4 L1804.5,1589.3 L1806.3,1581.6 L1808.2,1574 L1810.1,1566.7 L1812,1559.7 L1813.8,1553 L1815.7,1546.6 L1817.6,1540.6 L1819.5,1534.9 L1821.4,1529.6 L1823.2,1524.6 L1825.1,1520.1 L1827,1515.9 L1828.9,1512.2 L1830.7,1509 L1832.6,1506.1 L1834.5,1503.7 L1836.4,1501.8 L1838.3,1500.3 L1840.1,1499.3 L1842,1498.8 L1843.9,1498.7 L1845.8,1499.1 L1847.6,1499.9 L1849.5,1501.3 L1851.4,1503.1 L1853.3,1505.3 L1855.2,1508 L1857,1511.1 L1858.9,1514.7 L1860.8,1518.7 L1862.7,1523.1 L1864.6,1527.9 L1866.4,1533.1 L1868.3,1538.7 L1870.2,1544.6 L1872.1,1550.9 L1873.9,1557.5 L1875.8,1564.4 L1877.7,1571.6 L1879.6,1579.1 L1881.5,1586.8 L1883.3,1594.8 L1885.2,1602.9 L1887.1,1611.3 L1889,1619.8 L1890.8,1628.4 L1892.7,1637.1 L1894.6,1646 L1896.5,1654.9 L1898.4,1663.8 L1900.2,1672.8 L1902.1,1681.7 L1904,1690.7 L1905.9,1699.5 L1907.7,1708.3 L1909.6,1717 L1911.5,1725.5 L1913.4,1733.9 L1915.3,1742.2 L1917.1,1750.2 L1919,1758 L1920.9,1765.6 L1922.8,1772.9 L1924.6,1779.9 L1926.5,1786.6 L1928.4,1793 L1930.3,1799.1 L1932.2,1804.8 L1934,1810.1 L1935.9,1815.1 L1937.8,1819.7 L1939.7,1823.8 L1941.5,1827.6 L1943.4,1830.9 L1945.3,1833.7 L1947.2,1836.1 L1949.1,1838.1 L1950.9,1839.6 L1952.8,1840.6 L1954.7,1841.2 L1956.6,1841.3 L1958.5,1841 L1960.3,1840.1 L1962.2,1838.8 L1964.1,1837.1 L1966,1834.8 L1967.8,1832.2 L1969.7,1829.1 L1971.6,1825.5 L1973.5,1821.5 L1975.4,1817.2 L1977.2,1812.4 L1979.1,1807.2 L1981,1801.6 L1982.9,1795.7 L1984.7,1789.5 L1986.6,1782.9 L1988.5,1776 L1990.4,1768.8 L1992.3,1761.3 L1994.1,1753.6 L1996,1745.7 L1997.9,1737.6 L1999.8,1729.2 L2001.6,1720.8 L2003.5,1712.1 L2005.4,1703.4"/>
<path stroke="#0000ff" d="M1254.2,1751.8 L1256.1,1745.8 L1258,1739.6 L1259.8,1733.2 L1261.7,1726.7 L1263.6,1720 L1265.5,1713.1 L1267.3,1706.1 L1269.2,1699.1 L1271.1,1691.9 L1273,1684.7 L1274.9,1677.4 L1276.7,1670.1 L1278.6,1662.9 L1280.5,1655.6 L1282.4,1648.4 L1284.2,1641.2 L1286.1,1634.1 L1288,1627.1 L1289.9,1620.2 L1291.8,1613.5 L1293.6,1606.9 L1295.5,1600.5 L1297.4,1594.2 L1299.3,1588.2 L1301.2,1582.4 L1303,1576.9 L1304.9,1571.6 L1306.8,1566.6 L1308.7,1561.8 L1310.5,1557.4 L1312.4,1553.2 L1314.3,1549.4 L1316.2,1545.9 L1318.1,1542.8 L1319.9,1540 L1321.8,1537.6 L1323.7,1535.5 L1325.6,1533.8 L1327.4,1532.5 L1329.3,1531.6 L1331.2,1531 L1333.1,1530.9 L1335,1531.1 L1336.8,1531.7 L1338.7,1532.7 L1340.6,1534 L1342.5,1535.8 L1344.3,1537.9 L1346.2,1540.3 L1348.1,1543.2 L1350,1546.4 L1351.9,1549.9 L1353.7,1553.7 L1355.6,1557.9 L1357.5,1562.4 L1359.4,1567.2 L1361.2,1572.3 L1363.1,1577.6 L1365,1583.2 L1366.9,1589.1 L1368.8,1595.1 L1370.6,1601.4 L1372.5,1607.9 L1374.4,1614.5 L1376.3,1621.3 L1378.1,1628.3 L1380,1635.3 L1381.9,1642.5 L1383.8,1649.7 L1385.7,1657 L1387.5,1664.3 L1389.4,1671.6 L1391.3,1678.9 L1393.2,1686.3 L1395.1,1693.5 L1396.9,1700.7 L1398.8,1707.9 L1400.7,1714.9 L1402.6,1721.8 L1404.4,1728.5 L1406.3,1735.1 L1408.2,1741.5 L1410.1,1747.7 L1412,1753.8 L1413.8,1759.5 L1415.7,1765.1 L1417.6,1770.3 L1419.5,1775.3 L1421.3,1780 L1423.2,1784.4 L1425.1,1788.5 L1427,1792.3 L1428.9,1795.7 L1430.7,1798.8 L1432.6,1801.5 L1434.5,1803.8 L1436.4,1805.8 L1438.2,1807.4 L1440.1,1808.7 L1442,1809.5 L1443.9,1810 L1445.8,1810.1 L1447.6,1809.7 L1449.5,1809 L1451.4,1808 L1453.3,1806.5 L1455.1,1804.7 L1457,1802.5 L1458.9,1799.9 L1460.8,1796.9 L1462.7,1793.6 L1464.5,1790 L1466.4,1786.1 L1468.3,1781.8 L1470.2,1777.2 L1472,1772.3 L1473.9,1767.1 L1475.8,1761.7 L1477.7,1756 L1479.6,1750 L1481.4,1743.9 L1483.3,1737.5 L1485.2,1730.9 L1487.1,1724.2 L1489,1717.3 L1490.8,1710.3 L1492.7,1703.2 L1494.6,1696 L1496.5,1688.7 L1498.3,1681.4 L1500.2,1674 L1502.1,1666.6 L1504,1659.2 L1505.9,1651.9 L1507.7,1644.6 L1509.6,1637.3 L1511.5,1630.2 L1513.4,1623.2 L1515.2,1616.2 L1517.1,1609.5 L1519,1602.9 L1520.9,1596.5 L1522.8,1590.3 L1524.6,1584.3 L1526.5,1578.5 L1528.4,1573 L1530.3,1567.8 L1532.1,1562.8 L1534,1558.2 L1535.9,1553.8 L1537.8,1549.8 L1539.7,1546.1 L1541.5,1542.7 L1543.4,1539.7 L1545.3,1537 L1547.2,1534.8 L1549,1532.8 L1550.9,1531.3 L1552.8,1530.2 L1554.7,1529.4 L1556.6,1529 L1558.4,1529 L1560.3,1529.5 L1562.2,1530.2 L1564.1,1531.4 L1565.9,1533 L1567.8,1534.9 L1569.7,1537.2 L1571.6,1539.9 L1573.5,1543 L1575.3,1546.4 L1577.2,1550.1 L1579.1,1554.2 L1581,1558.6 L1582.9,1563.3 L1584.7,1568.3 L1586.6,1573.5 L1588.5,1579.1 L1590.4,1584.9 L1592.2,1590.9 L1594.1,1597.2 L1596,1603.6 L1597.9,1610.3 L1599.8,1617.1 L1601.6,1624 L1603.5,1631.1 L1605.4,1638.3 L1607.3,1645.6 L1609.1,1652.9 L1611,1660.3 L1612.9,1667.8 L1614.8,1675.2 L1616.7,1682.6 L1618.5,1690 L1620.4,1697.4 L1622.3,1704.6 L1624.2,1711.8 L1626,1718.8 L1627.9,1725.8 L1629.8,1732.5 L1631.7,1739.1 L1633.6,1745.5 L1635.4,1751.7 L1637.3,1757.7 L1639.2,1763.5 L1641.1,1768.9 L1642.9,1774.1 L1644.8,1779.1 L1646.7,1783.7 L1648.6,1788 L1650.5,1792 L1652.3,1795.6 L1654.2,1798.9 L1656.1,1801.9 L1658,1804.4 L1659.8,1806.6 L1661.7,1808.5 L1663.6,1809.9 L1665.5,1811 L1667.4,1811.7 L1669.2,1811.9 L1671.1,1811.8 L1673,1811.3 L1674.9,1810.4 L1676.8,1809.2 L1678.6,1807.5 L1680.5,1805.4 L1682.4,1803 L1684.3,1800.2 L1686.1,1797.1 L1688,1793.6 L1689.9,1789.7 L1691.8,1785.6 L1693.7,1781.1 L1695.5,1776.3 L1697.4,1771.2 L1699.3,1765.8 L1701.2,1760.1 L1703,1754.3 L1704.9,1748.1 L1706.8,1741.8 L1708.7,1735.2 L1710.6,1728.5 L1712.4,1721.6 L1714.3,1714.6 L1716.2,1707.4 L1718.1,1700.2 L1719.9,1692.8 L1721.8,1685.4 L1723.7,1677.9 L1725.6,1670.4 L1727.5,1663 L1729.3,1655.5 L1731.2,1648.1 L1733.1,1640.7 L1735,1633.4 L1736.8,1626.2 L1738.7,1619.1 L1740.6,1612.2 L1742.5,1605.4 L1744.4,1598.8 L1746.2,1592.4 L1748.1,1586.3 L1750,1580.3 L1751.9,1574.6 L1753.7,1569.1 L1755.6,1564 L1757.5,1559.1 L1759.4,1554.5 L1761.3,1550.2 L1763.1,1546.3 L1765,1542.7 L1766.9,1539.5 L1768.8,1536.6 L1770.7,1534.1 L1772.5,1532 L1774.4,1530.2 L1776.3,1528.9 L1778.2,1527.9 L1780,1527.3 L1781.9,1527.1 L1783.8,1527.3 L1785.7,1527.9 L1787.6,1528.9 L1789.4,1530.3 L1791.3,1532.1 L1793.2,1534.2 L1795.1,1536.7 L1796.9,1539.6 L1798.8,1542.9 L1800.7,1546.5 L1802.6,1550.4 L1804.5,1554.7 L1806.3,1559.3 L1808.2,1564.2 L1810.1,1569.4 L1812,1574.9 L1813.8,1580.7 L1815.7,1586.7 L1817.6,1592.9 L1819.5,1599.3 L1821.4,1605.9 L1823.2,1612.8 L1825.1,1619.7 L1827,1626.8 L1828.9,1634.1 L1830.7,1641.4 L1832.6,1648.8 L1834.5,1656.3 L1836.4,1663.8 L1838.3,1671.4 L1840.1,1678.9 L1842,1686.4 L1843.9,1693.9 L1845.8,1701.3 L1847.6,1708.6 L1849.5,1715.8 L1851.4,1722.9 L1853.3,1729.8 L1855.2,1736.6 L1857,1743.2 L1858.9,1749.6 L1860.8,1755.8 L1862.7,1761.7 L1864.6,1767.4 L1866.4,1772.8 L1868.3,1777.9 L1870.2,1782.8 L1872.1,1787.3 L1873.9,1791.5 L1875.8,1795.4 L1877.7,1798.9 L1879.6,1802.1 L1881.5,1804.9 L1883.3,1807.3 L1885.2,1809.4 L1887.1,1811.1 L1889,1812.3 L1890.8,1813.2 L1892.7,1813.7 L1894.6,1813.8 L1896.5,1813.5 L1898.4,1812.8 L1900.2,1811.7 L1902.1,1810.2 L1904,1808.4 L1905.9,1806.1 L1907.7,1803.5 L1909.6,1800.5 L1911.5,1797.1 L1913.4,1793.4 L1915.3,1789.3 L1917.1,1784.9 L1919,1780.2 L1920.9,1775.2 L1922.8,1769.9 L1924.6,1764.3 L1926.5,1758.5 L1928.4,1752.4 L1930.3,1746.1 L1932.2,1739.6 L1934,1732.8 L1935.9,1725.9 L1937.8,1718.9 L1939.7,1711.7 L1941.5,1704.4 L1943.4,1697 L1945.3,1689.5 L1947.2,1682 L1949.1,1674.4 L1950.9,1666.8 L1952.8,1659.2 L1954.7,1651.7 L1956.6,1644.2 L1958.5,1636.8 L1960.3,1629.4 L1962.2,1622.2 L1964.1,1615.1 L1966,1608.1 L1967.8,1601.4 L1969.7,1594.8 L1971.6,1588.4 L1973.5,1582.2 L1975.4,1576.3 L1977.2,1570.6 L1979.1,1565.2 L1981,1560.1 L1982.9,1555.3 L1984.7,1550.9 L1986.6,1546.7 L1988.5,1542.9 L1990.4,1539.4 L1992.3,1536.3 L1994.1,1533.6 L1996,1531.2 L1997.9,1529.3 L1999.8,1527.7 L2001.6,1526.5 L2003.5,1525.7 L2005.4,1525.3"/>
</g>
<rect x="1254.2" y="1460.2" width="751.2" height="419.6" fill="none" stroke="#000" stroke-width="5.5"/>
<text transform="translate(1202.7,1526.8) scale(1,1.055)" font-size="70" text-anchor="end">2</text>
<text transform="translate(1202.7,1668) scale(1,1.055)" font-size="70" text-anchor="end">0</text>
<text transform="translate(1202.7,1808.6) scale(1,1.055)" font-size="70" text-anchor="end"><tspan dy="8.5">−</tspan><tspan dy="-8.5">2</tspan></text>
<text transform="translate(1445,1965.5) scale(1,1.055)" font-size="70" text-anchor="middle">14</text>
<text transform="translate(1819.6,1965.5) scale(1,1.055)" font-size="70" text-anchor="middle">15</text>
<text transform="translate(1629,2046) scale(1,1.055)" font-size="75" text-anchor="middle">Time / fs</text>
<text transform="translate(1103.5,1874.4) rotate(-90) scale(1,1.055)" font-size="75"><tspan x="0" y="0" textLength="345.9" lengthAdjust="spacingAndGlyphs">E(t) / GVm</tspan><tspan x="346.7" y="-30.5" font-size="60">−</tspan><tspan x="378" y="-36.4" font-size="60">1</tspan></text>
</svg></body></html>
